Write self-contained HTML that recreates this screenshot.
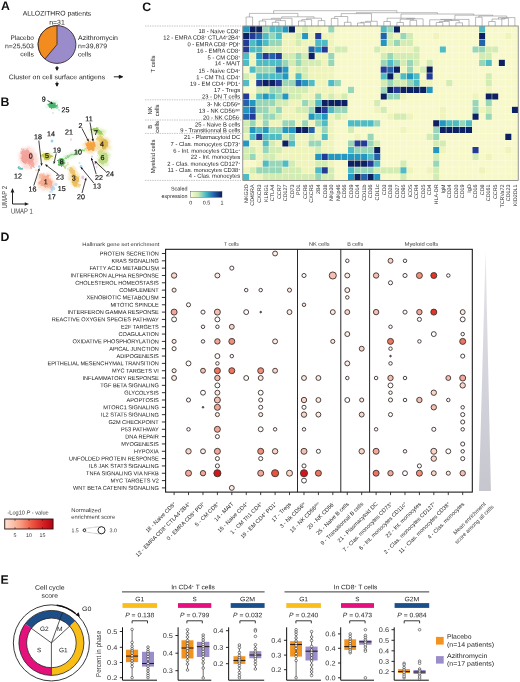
<!DOCTYPE html>
<html><head><meta charset="utf-8"><title>Figure</title>
<style>html,body{margin:0;padding:0;background:#fff}svg{display:block}text{font-family:"Liberation Sans",sans-serif;text-rendering:geometricPrecision}</style>
</head><body>
<svg width="520" height="682" viewBox="0 0 520 682">
<rect width="520" height="682" fill="#fff"/>
<g opacity="0.999">
<text x="0.90" y="10.10" font-size="12.3" font-weight="bold" transform="rotate(0.1 0.90 10.10)" fill="#111">A</text>
<text x="0.50" y="106.00" font-size="12.3" font-weight="bold" transform="rotate(0.1 0.50 106.00)" fill="#111">B</text>
<text x="142.30" y="11.10" font-size="12.3" font-weight="bold" transform="rotate(0.1 142.30 11.10)" fill="#111">C</text>
<text x="0.50" y="240.90" font-size="12.3" font-weight="bold" transform="rotate(0.1 0.50 240.90)" fill="#111">D</text>
<text x="0.50" y="583.70" font-size="12.3" font-weight="bold" transform="rotate(0.1 0.50 583.70)" fill="#111">E</text>
<text x="57.00" y="15.60" font-size="6.7" text-anchor="middle" transform="rotate(0.1 57.00 15.60)" textLength="68.5" lengthAdjust="spacingAndGlyphs" fill="#222">ALLOZITHRO patients</text>
<text x="57.00" y="24.40" font-size="6.7" text-anchor="middle" transform="rotate(0.1 57.00 24.40)" textLength="15.5" lengthAdjust="spacingAndGlyphs" fill="#222">n=31</text>
<circle cx="57" cy="44.5" r="18.9" fill="#9a8ccb" stroke="#3a2c2c" stroke-width="0.9"/>
<path d="M57,44.5 L57,25.6 A18.9,18.9 0 0 0 44.95,59.06 Z" fill="#f28c1e" stroke="#3a2c2c" stroke-width="0.9" stroke-linejoin="round"/>
<text x="33.80" y="40.00" font-size="6.7" text-anchor="end" transform="rotate(0.1 33.80 40.00)" textLength="23.3" lengthAdjust="spacingAndGlyphs" fill="#222">Placebo</text>
<text x="33.80" y="48.20" font-size="6.7" text-anchor="end" transform="rotate(0.1 33.80 48.20)" textLength="28.8" lengthAdjust="spacingAndGlyphs" fill="#222">n=25,503</text>
<text x="33.80" y="56.40" font-size="6.7" text-anchor="end" transform="rotate(0.1 33.80 56.40)" textLength="13.6" lengthAdjust="spacingAndGlyphs" fill="#222">cells</text>
<text x="78.00" y="40.00" font-size="6.7" transform="rotate(0.1 78.00 40.00)" textLength="40" lengthAdjust="spacingAndGlyphs" fill="#222">Azithromycin</text>
<text x="78.00" y="48.20" font-size="6.7" transform="rotate(0.1 78.00 48.20)" textLength="29" lengthAdjust="spacingAndGlyphs" fill="#222">n=39,879</text>
<text x="78.00" y="56.40" font-size="6.7" transform="rotate(0.1 78.00 56.40)" textLength="13.4" lengthAdjust="spacingAndGlyphs" fill="#222">cells</text>
<text x="8.80" y="79.20" font-size="6.7" transform="rotate(0.1 8.80 79.20)" textLength="96.3" lengthAdjust="spacingAndGlyphs" fill="#222">Cluster on cell surface antigens</text>
<path d="M57,66 V68.2 M55.7,67.7 L57,70.3 L58.3,67.7 Z M57,81.7 V84 M55.7,83.5 L57,86.2 L58.3,83.5 Z" stroke="#111" stroke-width="0.9" fill="#111"/>
<path d="M113.8,76.8 H119.6 M119.2,75.3 L122.7,76.8 L119.2,78.3 Z" stroke="#111" stroke-width="0.9" fill="#111"/>
<defs><filter id="b1" x="-30%" y="-30%" width="160%" height="160%"><feTurbulence type="fractalNoise" baseFrequency="0.22" numOctaves="2" seed="7" result="n"/><feDisplacementMap in="SourceGraphic" in2="n" scale="5" xChannelSelector="R" yChannelSelector="G"/><feGaussianBlur stdDeviation="0.75"/></filter><filter id="b2" x="-50%" y="-50%" width="200%" height="200%"><feGaussianBlur stdDeviation="0.55"/></filter><filter id="b3" x="-30%" y="-30%" width="160%" height="160%"><feTurbulence type="fractalNoise" baseFrequency="0.3" numOctaves="2" seed="3" result="n"/><feDisplacementMap in="SourceGraphic" in2="n" scale="7" xChannelSelector="G" yChannelSelector="R"/><feGaussianBlur stdDeviation="1.3"/></filter></defs>
<g filter="url(#b3)">
<ellipse cx="28.5" cy="158" rx="9.5" ry="11" fill="#f9cfc8" opacity="0.7" transform="rotate(-25 28.5 158)"/>
<ellipse cx="45.5" cy="182" rx="9" ry="9" fill="#fbd2bf" opacity="0.7" transform="rotate(0 45.5 182)"/>
<ellipse cx="47" cy="156.5" rx="6.5" ry="4.5" fill="#e2e49c" opacity="0.6" transform="rotate(0 47 156.5)"/>
<ellipse cx="74" cy="177" rx="5.5" ry="10.5" fill="#f5dc9c" opacity="0.7" transform="rotate(-15 74 177)"/>
<ellipse cx="91" cy="146.5" rx="7.5" ry="7.5" fill="#f9cf90" opacity="0.6" transform="rotate(0 91 146.5)"/>
<ellipse cx="103.5" cy="145.5" rx="7" ry="9" fill="#efd88c" opacity="0.7" transform="rotate(10 103.5 145.5)"/>
<ellipse cx="98" cy="131.5" rx="8" ry="4" fill="#cfe69a" opacity="0.6" transform="rotate(15 98 131.5)"/>
<ellipse cx="103.5" cy="159" rx="6" ry="8.5" fill="#d6e8a8" opacity="0.7" transform="rotate(12 103.5 159)"/>
<ellipse cx="74" cy="154" rx="13" ry="2.2" fill="#cdeec4" opacity="0.7" transform="rotate(-24 74 154)"/>
<ellipse cx="52.5" cy="105.5" rx="5.5" ry="4" fill="#a6e0b8" opacity="0.5" transform="rotate(0 52.5 105.5)"/>
</g><g filter="url(#b1)">
<ellipse cx="27" cy="156.5" rx="6.2" ry="7.6" fill="#f0938c" opacity="0.8" transform="rotate(-30 27 156.5)"/>
<ellipse cx="31.5" cy="163.5" rx="3.6" ry="4.6" fill="#f2a098" opacity="0.8" transform="rotate(-30 31.5 163.5)"/>
<ellipse cx="24" cy="152" rx="3.6" ry="3.4" fill="#f3a8a0" opacity="0.7" transform="rotate(0 24 152)"/>
<ellipse cx="45.5" cy="181.8" rx="6.2" ry="6.4" fill="#f7a283" opacity="0.85" transform="rotate(0 45.5 181.8)"/>
<ellipse cx="42" cy="176.5" rx="3" ry="3" fill="#f8b094" opacity="0.7" transform="rotate(0 42 176.5)"/>
<ellipse cx="49.5" cy="187" rx="3" ry="2.6" fill="#f8b094" opacity="0.7" transform="rotate(0 49.5 187)"/>
<ellipse cx="47" cy="156.3" rx="5" ry="3.2" fill="#bcc03c" opacity="0.9" transform="rotate(0 47 156.3)"/>
<ellipse cx="61.3" cy="161.6" rx="3.3" ry="3.5" fill="#4cae50" opacity="0.9" transform="rotate(0 61.3 161.6)"/>
<ellipse cx="75" cy="179.5" rx="3.8" ry="6.6" fill="#e8b548" opacity="0.85" transform="rotate(-12 75 179.5)"/>
<ellipse cx="71.5" cy="170.5" rx="2.2" ry="3.6" fill="#e6bc58" opacity="0.75" transform="rotate(-25 71.5 170.5)"/>
<ellipse cx="77" cy="185" rx="3" ry="2.6" fill="#ecc468" opacity="0.7" transform="rotate(0 77 185)"/>
<ellipse cx="90.6" cy="146.3" rx="5.2" ry="5" fill="#f4a03a" opacity="0.95" transform="rotate(0 90.6 146.3)"/>
<ellipse cx="103.8" cy="144.3" rx="4.2" ry="5.4" fill="#dcae3c" opacity="0.85" transform="rotate(10 103.8 144.3)"/>
<ellipse cx="100" cy="139" rx="3" ry="3" fill="#e6c250" opacity="0.7" transform="rotate(0 100 139)"/>
<ellipse cx="97.5" cy="131" rx="6.2" ry="2.4" fill="#86c440" opacity="0.85" transform="rotate(18 97.5 131)"/>
<ellipse cx="101.5" cy="134" rx="2.8" ry="2" fill="#a6d058" opacity="0.7" transform="rotate(0 101.5 134)"/>
<ellipse cx="103.6" cy="158.5" rx="4.2" ry="6" fill="#b6d474" opacity="0.8" transform="rotate(12 103.6 158.5)"/>
<ellipse cx="100" cy="152.5" rx="2.6" ry="2.6" fill="#c6dc84" opacity="0.7" transform="rotate(0 100 152.5)"/>
<ellipse cx="75" cy="153.6" rx="12" ry="1.3" fill="#8ad480" opacity="0.9" transform="rotate(-24 75 153.6)"/>
<ellipse cx="64.5" cy="166" rx="5" ry="0.9" fill="#7cc87c" opacity="0.6" transform="rotate(55 64.5 166)"/>
<ellipse cx="66.5" cy="166.5" rx="4.5" ry="0.9" fill="#c8c860" opacity="0.6" transform="rotate(-60 66.5 166.5)"/>
<ellipse cx="52.5" cy="105.3" rx="4.2" ry="2.8" fill="#38ae60" opacity="0.9" transform="rotate(5 52.5 105.3)"/>
<ellipse cx="20" cy="168" rx="2.6" ry="1.5" fill="#4cb0ae" opacity="0.85" transform="rotate(15 20 168)"/>
<ellipse cx="52.8" cy="188" rx="2.6" ry="2.4" fill="#a6d0f2" opacity="0.75" transform="rotate(0 52.8 188)"/>
</g><g filter="url(#b2)">
<ellipse cx="56.8" cy="107.6" rx="1.8" ry="1.3" fill="#7cd098" opacity="0.7" transform="rotate(0 56.8 107.6)"/>
<ellipse cx="52" cy="141" rx="1.4" ry="1.6" fill="#7cc4e6" opacity="0.8" transform="rotate(0 52 141)"/>
<ellipse cx="71" cy="139.5" rx="0.8" ry="1.6" fill="#eeb4d2" opacity="0.7" transform="rotate(0 71 139.5)"/>
<ellipse cx="55.8" cy="184.5" rx="1.8" ry="1.8" fill="#a6d0f2" opacity="0.6" transform="rotate(0 55.8 184.5)"/>
<ellipse cx="50.5" cy="191.8" rx="1.4" ry="1.4" fill="#b6d8f4" opacity="0.6" transform="rotate(0 50.5 191.8)"/>
<ellipse cx="81" cy="166.5" rx="1.4" ry="1.4" fill="#86cae8" opacity="0.7" transform="rotate(0 81 166.5)"/>
<ellipse cx="82.8" cy="177.5" rx="1.5" ry="2" fill="#e6a6da" opacity="0.7" transform="rotate(0 82.8 177.5)"/>
<ellipse cx="79.5" cy="163" rx="1" ry="1" fill="#a0dcc0" opacity="0.6" transform="rotate(0 79.5 163)"/>
<ellipse cx="95" cy="163" rx="1.4" ry="1.8" fill="#dca6e2" opacity="0.6" transform="rotate(0 95 163)"/>
<ellipse cx="92" cy="156.5" rx="1.1" ry="1.1" fill="#a0c0f0" opacity="0.6" transform="rotate(0 92 156.5)"/>
<ellipse cx="96.5" cy="167" rx="1" ry="1.4" fill="#e6b6e6" opacity="0.5" transform="rotate(0 96.5 167)"/>
<ellipse cx="39.2" cy="166.5" rx="1.3" ry="1.3" fill="#86bcea" opacity="0.7" transform="rotate(0 39.2 166.5)"/>
<ellipse cx="59" cy="110" rx="0.9" ry="0.9" fill="#90d8a0" opacity="0.6" transform="rotate(0 59 110)"/>
<ellipse cx="53" cy="113" rx="0.7" ry="1.1" fill="#90d8a0" opacity="0.6" transform="rotate(0 53 113)"/>
<ellipse cx="36" cy="170" rx="1" ry="1" fill="#f8b0a8" opacity="0.5" transform="rotate(0 36 170)"/>
</g>
<text x="43.75" y="101.60" font-size="7.1" text-anchor="middle" transform="rotate(0.1 43.75 101.60)" fill="#111" stroke="#111" stroke-width="0.18">9</text>
<text x="65.50" y="112.20" font-size="7.1" text-anchor="middle" transform="rotate(0.1 65.50 112.20)" fill="#111" stroke="#111" stroke-width="0.18">25</text>
<text x="89.00" y="121.20" font-size="7.1" text-anchor="middle" transform="rotate(0.1 89.00 121.20)" fill="#111" stroke="#111" stroke-width="0.18">11</text>
<text x="80.50" y="128.00" font-size="7.1" text-anchor="middle" transform="rotate(0.1 80.50 128.00)" fill="#111" stroke="#111" stroke-width="0.18">2</text>
<text x="96.00" y="135.00" font-size="7.1" text-anchor="middle" transform="rotate(0.1 96.00 135.00)" fill="#111" stroke="#111" stroke-width="0.18">7</text>
<text x="38.00" y="139.20" font-size="7.1" text-anchor="middle" transform="rotate(0.1 38.00 139.20)" fill="#111" stroke="#111" stroke-width="0.18">18</text>
<text x="51.00" y="136.20" font-size="7.1" text-anchor="middle" transform="rotate(0.1 51.00 136.20)" fill="#111" stroke="#111" stroke-width="0.18">14</text>
<text x="69.00" y="134.50" font-size="7.1" text-anchor="middle" transform="rotate(0.1 69.00 134.50)" fill="#111" stroke="#111" stroke-width="0.18">21</text>
<text x="102.00" y="146.60" font-size="7.1" text-anchor="middle" transform="rotate(0.1 102.00 146.60)" fill="#111" stroke="#111" stroke-width="0.18">4</text>
<text x="57.00" y="152.50" font-size="7.1" text-anchor="middle" transform="rotate(0.1 57.00 152.50)" fill="#111" stroke="#111" stroke-width="0.18">19</text>
<text x="78.00" y="154.50" font-size="7.1" text-anchor="middle" transform="rotate(0.1 78.00 154.50)" fill="#111" stroke="#111" stroke-width="0.18">10</text>
<text x="30.75" y="158.60" font-size="7.1" text-anchor="middle" transform="rotate(0.1 30.75 158.60)" fill="#111" stroke="#111" stroke-width="0.18">0</text>
<text x="47.00" y="158.00" font-size="7.1" text-anchor="middle" transform="rotate(0.1 47.00 158.00)" fill="#111" stroke="#111" stroke-width="0.18">5</text>
<text x="102.50" y="160.00" font-size="7.1" text-anchor="middle" transform="rotate(0.1 102.50 160.00)" fill="#111" stroke="#111" stroke-width="0.18">6</text>
<text x="61.75" y="164.20" font-size="7.1" text-anchor="middle" transform="rotate(0.1 61.75 164.20)" fill="#111" stroke="#111" stroke-width="0.18">8</text>
<text x="18.00" y="178.50" font-size="7.1" text-anchor="middle" transform="rotate(0.1 18.00 178.50)" fill="#111" stroke="#111" stroke-width="0.18">12</text>
<text x="110.00" y="176.20" font-size="7.1" text-anchor="middle" transform="rotate(0.1 110.00 176.20)" fill="#111" stroke="#111" stroke-width="0.18">24</text>
<text x="99.00" y="180.00" font-size="7.1" text-anchor="middle" transform="rotate(0.1 99.00 180.00)" fill="#111" stroke="#111" stroke-width="0.18">22</text>
<text x="60.00" y="179.50" font-size="7.1" text-anchor="middle" transform="rotate(0.1 60.00 179.50)" fill="#111" stroke="#111" stroke-width="0.18">23</text>
<text x="73.75" y="180.50" font-size="7.1" text-anchor="middle" transform="rotate(0.1 73.75 180.50)" fill="#111" stroke="#111" stroke-width="0.18">3</text>
<text x="45.75" y="184.20" font-size="7.1" text-anchor="middle" transform="rotate(0.1 45.75 184.20)" fill="#111" stroke="#111" stroke-width="0.18">1</text>
<text x="97.00" y="188.50" font-size="7.1" text-anchor="middle" transform="rotate(0.1 97.00 188.50)" fill="#111" stroke="#111" stroke-width="0.18">13</text>
<text x="32.50" y="191.50" font-size="7.1" text-anchor="middle" transform="rotate(0.1 32.50 191.50)" fill="#111" stroke="#111" stroke-width="0.18">16</text>
<text x="61.75" y="191.00" font-size="7.1" text-anchor="middle" transform="rotate(0.1 61.75 191.00)" fill="#111" stroke="#111" stroke-width="0.18">15</text>
<text x="51.75" y="199.20" font-size="7.1" text-anchor="middle" transform="rotate(0.1 51.75 199.20)" fill="#111" stroke="#111" stroke-width="0.18">17</text>
<text x="81.00" y="199.20" font-size="7.1" text-anchor="middle" transform="rotate(0.1 81.00 199.20)" fill="#111" stroke="#111" stroke-width="0.18">20</text>
<g stroke="#111" stroke-width="0.8" fill="#111">
<path d="M47.5,100.5 L50.9,102.5"/><path d="M53.2,104.0 L50.3,103.5 L51.5,101.6 Z" stroke="none"/>
<path d="M38.8,140.5 L41.4,163.2"/><path d="M41.8,166.0 L40.3,163.4 L42.6,163.1 Z" stroke="none"/>
<path d="M56.2,153.5 L54.4,161.5"/><path d="M53.8,164.2 L53.3,161.3 L55.5,161.8 Z" stroke="none"/>
<path d="M90.0,122.5 L92.8,139.0"/><path d="M93.2,141.8 L91.6,139.2 L93.9,138.8 Z" stroke="none"/>
<path d="M82.0,128.5 L87.5,139.3"/><path d="M88.8,141.8 L86.5,139.8 L88.5,138.7 Z" stroke="none"/>
<path d="M33.8,185.5 L38.6,170.7"/><path d="M39.5,168.0 L39.7,171.0 L37.5,170.3 Z" stroke="none"/>
<path d="M58.0,174.2 L47.2,166.0"/><path d="M45.0,164.2 L47.9,165.0 L46.5,166.9 Z" stroke="none"/>
<path d="M93.8,183.0 L82.3,168.9"/><path d="M80.5,166.8 L83.2,168.2 L81.4,169.6 Z" stroke="none"/>
<path d="M82.0,193.0 L85.5,180.2"/><path d="M86.2,177.5 L86.6,180.5 L84.4,179.9 Z" stroke="none"/>
<path d="M96.2,174.2 L92.1,160.2"/><path d="M91.2,157.5 L93.2,159.9 L90.9,160.5 Z" stroke="none"/>
<path d="M106.2,171.8 L96.6,162.9"/><path d="M94.5,161.0 L97.3,162.0 L95.8,163.7 Z" stroke="none"/>
</g>
<path d="M12.5,191.5 V204 H25.5" stroke="#222" stroke-width="1" fill="none"/><path d="M12.5,188 L10.6,192.4 L14.4,192.4 Z M29,204 L24.8,202.2 L24.8,205.8 Z" fill="#222"/>
<text x="7.10" y="197.10" font-size="7.3" text-anchor="middle" transform="rotate(-90 7.10 197.10)" textLength="22.6" lengthAdjust="spacingAndGlyphs" fill="#444">UMAP 2</text>
<text x="11.00" y="213.60" font-size="7.3" transform="rotate(0.1 11.00 213.60)" textLength="21.7" lengthAdjust="spacingAndGlyphs" fill="#444">UMAP 1</text>
<rect x="242.8" y="26.0" width="275.39" height="154.40" fill="#fcfde0"/>
<path fill="#2396c1" d="M243.1,26.2h6.06v6.21h-6.06zM282.4,26.2h6.06v6.21h-6.06zM302.1,33.0h6.06v6.21h-6.06zM256.2,39.7h6.06v6.21h-6.06zM380.7,39.7h6.06v6.21h-6.06zM315.2,46.4h6.06v6.21h-6.06zM256.2,53.1h6.06v6.21h-6.06zM282.4,66.5h6.06v6.21h-6.06zM282.4,73.2h6.06v6.21h-6.06zM407.0,73.2h6.06v6.21h-6.06zM302.1,80.0h6.06v6.21h-6.06zM426.6,86.7h6.06v6.21h-6.06zM262.7,93.4h6.06v6.21h-6.06zM282.4,93.4h6.06v6.21h-6.06zM249.6,100.1h6.06v6.21h-6.06zM243.1,106.8h6.06v6.21h-6.06zM308.6,113.5h6.06v6.21h-6.06zM321.7,113.5h6.06v6.21h-6.06zM439.8,120.2h6.06v6.21h-6.06zM249.6,126.9h6.06v6.21h-6.06zM262.7,126.9h6.06v6.21h-6.06zM282.4,126.9h6.06v6.21h-6.06zM288.9,126.9h6.06v6.21h-6.06zM243.1,140.4h6.06v6.21h-6.06zM433.2,147.1h6.06v6.21h-6.06zM315.2,153.8h6.06v6.21h-6.06zM328.3,153.8h6.06v6.21h-6.06zM334.8,153.8h6.06v6.21h-6.06zM341.4,153.8h6.06v6.21h-6.06zM348.0,153.8h6.06v6.21h-6.06zM354.5,153.8h6.06v6.21h-6.06zM361.1,153.8h6.06v6.21h-6.06zM348.0,173.9h6.06v6.21h-6.06zM374.2,173.9h6.06v6.21h-6.06z"/>
<path fill="#0b2163" d="M249.6,26.2h6.06v6.21h-6.06zM256.2,26.2h6.06v6.21h-6.06zM288.9,26.2h6.06v6.21h-6.06zM393.9,26.2h6.06v6.21h-6.06zM243.1,33.0h6.06v6.21h-6.06zM479.1,33.0h6.06v6.21h-6.06zM308.6,53.1h6.06v6.21h-6.06zM498.8,59.8h6.06v6.21h-6.06zM393.9,66.5h6.06v6.21h-6.06zM426.6,66.5h6.06v6.21h-6.06zM387.3,73.2h6.06v6.21h-6.06zM262.7,80.0h6.06v6.21h-6.06zM269.3,80.0h6.06v6.21h-6.06zM387.3,86.7h6.06v6.21h-6.06zM400.4,86.7h6.06v6.21h-6.06zM407.0,86.7h6.06v6.21h-6.06zM413.5,86.7h6.06v6.21h-6.06zM420.1,86.7h6.06v6.21h-6.06zM380.7,93.4h6.06v6.21h-6.06zM485.7,93.4h6.06v6.21h-6.06zM492.2,93.4h6.06v6.21h-6.06zM321.7,100.1h6.06v6.21h-6.06zM328.3,100.1h6.06v6.21h-6.06zM334.8,100.1h6.06v6.21h-6.06zM341.4,100.1h6.06v6.21h-6.06zM315.2,106.8h6.06v6.21h-6.06zM511.9,106.8h6.06v6.21h-6.06zM472.5,113.5h6.06v6.21h-6.06zM433.2,120.2h6.06v6.21h-6.06zM295.5,126.9h6.06v6.21h-6.06zM302.1,126.9h6.06v6.21h-6.06zM439.8,126.9h6.06v6.21h-6.06zM446.3,126.9h6.06v6.21h-6.06zM452.9,126.9h6.06v6.21h-6.06zM459.4,126.9h6.06v6.21h-6.06zM466.0,126.9h6.06v6.21h-6.06zM505.3,133.7h6.06v6.21h-6.06zM282.4,140.4h6.06v6.21h-6.06zM374.2,147.1h6.06v6.21h-6.06zM348.0,160.5h6.06v6.21h-6.06zM354.5,160.5h6.06v6.21h-6.06zM361.1,160.5h6.06v6.21h-6.06zM354.5,173.9h6.06v6.21h-6.06zM367.6,173.9h6.06v6.21h-6.06z"/>
<path fill="#98d6ba" d="M262.7,26.2h6.06v6.21h-6.06zM328.3,26.2h6.06v6.21h-6.06zM387.3,26.2h6.06v6.21h-6.06zM269.3,33.0h6.06v6.21h-6.06zM400.4,33.0h6.06v6.21h-6.06zM269.3,39.7h6.06v6.21h-6.06zM275.8,39.7h6.06v6.21h-6.06zM393.9,39.7h6.06v6.21h-6.06zM472.5,46.4h6.06v6.21h-6.06zM479.1,46.4h6.06v6.21h-6.06zM295.5,53.1h6.06v6.21h-6.06zM328.3,53.1h6.06v6.21h-6.06zM387.3,53.1h6.06v6.21h-6.06zM282.4,59.8h6.06v6.21h-6.06zM295.5,59.8h6.06v6.21h-6.06zM328.3,59.8h6.06v6.21h-6.06zM380.7,59.8h6.06v6.21h-6.06zM393.9,59.8h6.06v6.21h-6.06zM407.0,59.8h6.06v6.21h-6.06zM479.1,59.8h6.06v6.21h-6.06zM256.2,66.5h6.06v6.21h-6.06zM262.7,66.5h6.06v6.21h-6.06zM269.3,66.5h6.06v6.21h-6.06zM407.0,66.5h6.06v6.21h-6.06zM282.4,80.0h6.06v6.21h-6.06zM288.9,80.0h6.06v6.21h-6.06zM334.8,80.0h6.06v6.21h-6.06zM387.3,80.0h6.06v6.21h-6.06zM407.0,80.0h6.06v6.21h-6.06zM269.3,86.7h6.06v6.21h-6.06zM275.8,86.7h6.06v6.21h-6.06zM348.0,86.7h6.06v6.21h-6.06zM380.7,86.7h6.06v6.21h-6.06zM275.8,93.4h6.06v6.21h-6.06zM315.2,93.4h6.06v6.21h-6.06zM387.3,93.4h6.06v6.21h-6.06zM393.9,93.4h6.06v6.21h-6.06zM256.2,100.1h6.06v6.21h-6.06zM262.7,100.1h6.06v6.21h-6.06zM269.3,100.1h6.06v6.21h-6.06zM302.1,100.1h6.06v6.21h-6.06zM472.5,100.1h6.06v6.21h-6.06zM485.7,100.1h6.06v6.21h-6.06zM256.2,106.8h6.06v6.21h-6.06zM262.7,106.8h6.06v6.21h-6.06zM275.8,106.8h6.06v6.21h-6.06zM308.6,106.8h6.06v6.21h-6.06zM334.8,106.8h6.06v6.21h-6.06zM341.4,106.8h6.06v6.21h-6.06zM472.5,106.8h6.06v6.21h-6.06zM262.7,113.5h6.06v6.21h-6.06zM269.3,113.5h6.06v6.21h-6.06zM485.7,113.5h6.06v6.21h-6.06zM249.6,120.2h6.06v6.21h-6.06zM262.7,120.2h6.06v6.21h-6.06zM282.4,120.2h6.06v6.21h-6.06zM288.9,120.2h6.06v6.21h-6.06zM302.1,120.2h6.06v6.21h-6.06zM315.2,120.2h6.06v6.21h-6.06zM374.2,120.2h6.06v6.21h-6.06zM459.4,120.2h6.06v6.21h-6.06zM269.3,126.9h6.06v6.21h-6.06zM275.8,126.9h6.06v6.21h-6.06zM321.7,126.9h6.06v6.21h-6.06zM433.2,126.9h6.06v6.21h-6.06zM288.9,133.7h6.06v6.21h-6.06zM367.6,133.7h6.06v6.21h-6.06zM433.2,133.7h6.06v6.21h-6.06zM308.6,140.4h6.06v6.21h-6.06zM315.2,140.4h6.06v6.21h-6.06zM348.0,140.4h6.06v6.21h-6.06zM367.6,140.4h6.06v6.21h-6.06zM262.7,147.1h6.06v6.21h-6.06zM354.5,147.1h6.06v6.21h-6.06zM361.1,147.1h6.06v6.21h-6.06zM367.6,147.1h6.06v6.21h-6.06zM249.6,153.8h6.06v6.21h-6.06zM269.3,160.5h6.06v6.21h-6.06zM275.8,160.5h6.06v6.21h-6.06zM433.2,160.5h6.06v6.21h-6.06zM256.2,167.2h6.06v6.21h-6.06zM262.7,167.2h6.06v6.21h-6.06zM269.3,167.2h6.06v6.21h-6.06zM275.8,167.2h6.06v6.21h-6.06zM354.5,167.2h6.06v6.21h-6.06zM361.1,167.2h6.06v6.21h-6.06zM367.6,167.2h6.06v6.21h-6.06zM315.2,173.9h6.06v6.21h-6.06z"/>
<path fill="#4fbbc4" d="M269.3,26.2h6.06v6.21h-6.06zM275.8,26.2h6.06v6.21h-6.06zM380.7,26.2h6.06v6.21h-6.06zM479.1,26.2h6.06v6.21h-6.06zM262.7,33.0h6.06v6.21h-6.06zM275.8,33.0h6.06v6.21h-6.06zM249.6,39.7h6.06v6.21h-6.06zM262.7,39.7h6.06v6.21h-6.06zM315.2,39.7h6.06v6.21h-6.06zM321.7,39.7h6.06v6.21h-6.06zM249.6,46.4h6.06v6.21h-6.06zM256.2,46.4h6.06v6.21h-6.06zM439.8,46.4h6.06v6.21h-6.06zM243.1,53.1h6.06v6.21h-6.06zM243.1,59.8h6.06v6.21h-6.06zM256.2,59.8h6.06v6.21h-6.06zM262.7,59.8h6.06v6.21h-6.06zM269.3,59.8h6.06v6.21h-6.06zM275.8,59.8h6.06v6.21h-6.06zM387.3,59.8h6.06v6.21h-6.06zM485.7,59.8h6.06v6.21h-6.06zM249.6,66.5h6.06v6.21h-6.06zM256.2,73.2h6.06v6.21h-6.06zM262.7,73.2h6.06v6.21h-6.06zM269.3,73.2h6.06v6.21h-6.06zM275.8,73.2h6.06v6.21h-6.06zM295.5,73.2h6.06v6.21h-6.06zM380.7,73.2h6.06v6.21h-6.06zM400.4,73.2h6.06v6.21h-6.06zM413.5,73.2h6.06v6.21h-6.06zM243.1,80.0h6.06v6.21h-6.06zM308.6,80.0h6.06v6.21h-6.06zM328.3,80.0h6.06v6.21h-6.06zM413.5,80.0h6.06v6.21h-6.06zM256.2,93.4h6.06v6.21h-6.06zM269.3,93.4h6.06v6.21h-6.06zM315.2,100.1h6.06v6.21h-6.06zM328.3,106.8h6.06v6.21h-6.06zM315.2,113.5h6.06v6.21h-6.06zM321.7,120.2h6.06v6.21h-6.06zM348.0,120.2h6.06v6.21h-6.06zM354.5,120.2h6.06v6.21h-6.06zM361.1,120.2h6.06v6.21h-6.06zM367.6,120.2h6.06v6.21h-6.06zM446.3,120.2h6.06v6.21h-6.06zM452.9,120.2h6.06v6.21h-6.06zM466.0,120.2h6.06v6.21h-6.06zM256.2,126.9h6.06v6.21h-6.06zM249.6,133.7h6.06v6.21h-6.06zM262.7,133.7h6.06v6.21h-6.06zM269.3,133.7h6.06v6.21h-6.06zM275.8,133.7h6.06v6.21h-6.06zM321.7,133.7h6.06v6.21h-6.06zM262.7,140.4h6.06v6.21h-6.06zM288.9,140.4h6.06v6.21h-6.06zM348.0,147.1h6.06v6.21h-6.06zM367.6,153.8h6.06v6.21h-6.06zM262.7,160.5h6.06v6.21h-6.06zM282.4,160.5h6.06v6.21h-6.06zM374.2,160.5h6.06v6.21h-6.06zM315.2,167.2h6.06v6.21h-6.06zM348.0,167.2h6.06v6.21h-6.06zM400.4,167.2h6.06v6.21h-6.06zM243.1,173.9h6.06v6.21h-6.06z"/>
<path fill="#eef4bb" d="M295.5,26.2h6.06v6.21h-6.06zM308.6,26.2h6.06v6.21h-6.06zM315.2,26.2h6.06v6.21h-6.06zM282.4,33.0h6.06v6.21h-6.06zM288.9,33.0h6.06v6.21h-6.06zM308.6,33.0h6.06v6.21h-6.06zM321.7,33.0h6.06v6.21h-6.06zM328.3,33.0h6.06v6.21h-6.06zM393.9,33.0h6.06v6.21h-6.06zM433.2,33.0h6.06v6.21h-6.06zM505.3,33.0h6.06v6.21h-6.06zM282.4,39.7h6.06v6.21h-6.06zM288.9,39.7h6.06v6.21h-6.06zM302.1,39.7h6.06v6.21h-6.06zM308.6,39.7h6.06v6.21h-6.06zM328.3,39.7h6.06v6.21h-6.06zM282.4,46.4h6.06v6.21h-6.06zM288.9,46.4h6.06v6.21h-6.06zM295.5,46.4h6.06v6.21h-6.06zM302.1,46.4h6.06v6.21h-6.06zM328.3,46.4h6.06v6.21h-6.06zM380.7,46.4h6.06v6.21h-6.06zM387.3,46.4h6.06v6.21h-6.06zM393.9,46.4h6.06v6.21h-6.06zM400.4,46.4h6.06v6.21h-6.06zM407.0,46.4h6.06v6.21h-6.06zM249.6,53.1h6.06v6.21h-6.06zM315.2,53.1h6.06v6.21h-6.06zM321.7,53.1h6.06v6.21h-6.06zM249.6,59.8h6.06v6.21h-6.06zM321.7,59.8h6.06v6.21h-6.06zM288.9,66.5h6.06v6.21h-6.06zM308.6,66.5h6.06v6.21h-6.06zM315.2,66.5h6.06v6.21h-6.06zM321.7,66.5h6.06v6.21h-6.06zM328.3,66.5h6.06v6.21h-6.06zM400.4,66.5h6.06v6.21h-6.06zM413.5,66.5h6.06v6.21h-6.06zM249.6,73.2h6.06v6.21h-6.06zM288.9,73.2h6.06v6.21h-6.06zM308.6,73.2h6.06v6.21h-6.06zM315.2,73.2h6.06v6.21h-6.06zM321.7,73.2h6.06v6.21h-6.06zM328.3,73.2h6.06v6.21h-6.06zM315.2,80.0h6.06v6.21h-6.06zM321.7,80.0h6.06v6.21h-6.06zM420.1,80.0h6.06v6.21h-6.06zM426.6,80.0h6.06v6.21h-6.06zM308.6,86.7h6.06v6.21h-6.06zM315.2,86.7h6.06v6.21h-6.06zM321.7,86.7h6.06v6.21h-6.06zM328.3,86.7h6.06v6.21h-6.06zM485.7,86.7h6.06v6.21h-6.06zM249.6,93.4h6.06v6.21h-6.06zM302.1,93.4h6.06v6.21h-6.06zM308.6,93.4h6.06v6.21h-6.06zM321.7,93.4h6.06v6.21h-6.06zM334.8,93.4h6.06v6.21h-6.06zM400.4,93.4h6.06v6.21h-6.06zM472.5,93.4h6.06v6.21h-6.06zM288.9,100.1h6.06v6.21h-6.06zM295.5,100.1h6.06v6.21h-6.06zM282.4,106.8h6.06v6.21h-6.06zM288.9,106.8h6.06v6.21h-6.06zM374.2,106.8h6.06v6.21h-6.06zM439.8,106.8h6.06v6.21h-6.06zM479.1,106.8h6.06v6.21h-6.06zM282.4,113.5h6.06v6.21h-6.06zM288.9,113.5h6.06v6.21h-6.06zM295.5,113.5h6.06v6.21h-6.06zM302.1,113.5h6.06v6.21h-6.06zM328.3,113.5h6.06v6.21h-6.06zM341.4,113.5h6.06v6.21h-6.06zM387.3,113.5h6.06v6.21h-6.06zM407.0,113.5h6.06v6.21h-6.06zM439.8,113.5h6.06v6.21h-6.06zM256.2,120.2h6.06v6.21h-6.06zM269.3,120.2h6.06v6.21h-6.06zM275.8,120.2h6.06v6.21h-6.06zM295.5,120.2h6.06v6.21h-6.06zM308.6,120.2h6.06v6.21h-6.06zM328.3,120.2h6.06v6.21h-6.06zM315.2,126.9h6.06v6.21h-6.06zM328.3,126.9h6.06v6.21h-6.06zM400.4,126.9h6.06v6.21h-6.06zM243.1,133.7h6.06v6.21h-6.06zM295.5,133.7h6.06v6.21h-6.06zM302.1,133.7h6.06v6.21h-6.06zM315.2,133.7h6.06v6.21h-6.06zM328.3,133.7h6.06v6.21h-6.06zM354.5,133.7h6.06v6.21h-6.06zM249.6,140.4h6.06v6.21h-6.06zM256.2,140.4h6.06v6.21h-6.06zM275.8,140.4h6.06v6.21h-6.06zM295.5,140.4h6.06v6.21h-6.06zM302.1,140.4h6.06v6.21h-6.06zM321.7,140.4h6.06v6.21h-6.06zM328.3,140.4h6.06v6.21h-6.06zM256.2,147.1h6.06v6.21h-6.06zM282.4,147.1h6.06v6.21h-6.06zM288.9,147.1h6.06v6.21h-6.06zM295.5,147.1h6.06v6.21h-6.06zM302.1,147.1h6.06v6.21h-6.06zM308.6,147.1h6.06v6.21h-6.06zM321.7,147.1h6.06v6.21h-6.06zM328.3,147.1h6.06v6.21h-6.06zM439.8,147.1h6.06v6.21h-6.06zM505.3,147.1h6.06v6.21h-6.06zM256.2,153.8h6.06v6.21h-6.06zM275.8,153.8h6.06v6.21h-6.06zM282.4,153.8h6.06v6.21h-6.06zM288.9,153.8h6.06v6.21h-6.06zM295.5,153.8h6.06v6.21h-6.06zM302.1,153.8h6.06v6.21h-6.06zM308.6,153.8h6.06v6.21h-6.06zM485.7,153.8h6.06v6.21h-6.06zM256.2,160.5h6.06v6.21h-6.06zM295.5,160.5h6.06v6.21h-6.06zM302.1,160.5h6.06v6.21h-6.06zM308.6,160.5h6.06v6.21h-6.06zM328.3,160.5h6.06v6.21h-6.06zM243.1,167.2h6.06v6.21h-6.06zM302.1,167.2h6.06v6.21h-6.06zM308.6,167.2h6.06v6.21h-6.06zM407.0,167.2h6.06v6.21h-6.06zM426.6,167.2h6.06v6.21h-6.06zM479.1,167.2h6.06v6.21h-6.06zM249.6,173.9h6.06v6.21h-6.06zM256.2,173.9h6.06v6.21h-6.06z"/>
<path fill="#d2ecb3" d="M302.1,26.2h6.06v6.21h-6.06zM295.5,33.0h6.06v6.21h-6.06zM387.3,33.0h6.06v6.21h-6.06zM407.0,33.0h6.06v6.21h-6.06zM295.5,39.7h6.06v6.21h-6.06zM387.3,39.7h6.06v6.21h-6.06zM400.4,39.7h6.06v6.21h-6.06zM407.0,39.7h6.06v6.21h-6.06zM262.7,46.4h6.06v6.21h-6.06zM269.3,46.4h6.06v6.21h-6.06zM275.8,46.4h6.06v6.21h-6.06zM334.8,46.4h6.06v6.21h-6.06zM341.4,46.4h6.06v6.21h-6.06zM374.2,46.4h6.06v6.21h-6.06zM413.5,46.4h6.06v6.21h-6.06zM485.7,46.4h6.06v6.21h-6.06zM492.2,46.4h6.06v6.21h-6.06zM282.4,53.1h6.06v6.21h-6.06zM288.9,53.1h6.06v6.21h-6.06zM302.1,53.1h6.06v6.21h-6.06zM380.7,53.1h6.06v6.21h-6.06zM393.9,53.1h6.06v6.21h-6.06zM400.4,53.1h6.06v6.21h-6.06zM407.0,53.1h6.06v6.21h-6.06zM413.5,53.1h6.06v6.21h-6.06zM479.1,53.1h6.06v6.21h-6.06zM485.7,53.1h6.06v6.21h-6.06zM288.9,59.8h6.06v6.21h-6.06zM302.1,59.8h6.06v6.21h-6.06zM308.6,59.8h6.06v6.21h-6.06zM315.2,59.8h6.06v6.21h-6.06zM400.4,59.8h6.06v6.21h-6.06zM413.5,59.8h6.06v6.21h-6.06zM426.6,59.8h6.06v6.21h-6.06zM295.5,66.5h6.06v6.21h-6.06zM302.1,66.5h6.06v6.21h-6.06zM420.1,66.5h6.06v6.21h-6.06zM243.1,73.2h6.06v6.21h-6.06zM302.1,73.2h6.06v6.21h-6.06zM393.9,73.2h6.06v6.21h-6.06zM485.7,73.2h6.06v6.21h-6.06zM380.7,80.0h6.06v6.21h-6.06zM393.9,80.0h6.06v6.21h-6.06zM400.4,80.0h6.06v6.21h-6.06zM446.3,80.0h6.06v6.21h-6.06zM485.7,80.0h6.06v6.21h-6.06zM256.2,86.7h6.06v6.21h-6.06zM262.7,86.7h6.06v6.21h-6.06zM282.4,86.7h6.06v6.21h-6.06zM288.9,86.7h6.06v6.21h-6.06zM295.5,86.7h6.06v6.21h-6.06zM302.1,86.7h6.06v6.21h-6.06zM288.9,93.4h6.06v6.21h-6.06zM295.5,93.4h6.06v6.21h-6.06zM328.3,93.4h6.06v6.21h-6.06zM341.4,93.4h6.06v6.21h-6.06zM275.8,100.1h6.06v6.21h-6.06zM282.4,100.1h6.06v6.21h-6.06zM308.6,100.1h6.06v6.21h-6.06zM374.2,100.1h6.06v6.21h-6.06zM269.3,106.8h6.06v6.21h-6.06zM295.5,106.8h6.06v6.21h-6.06zM302.1,106.8h6.06v6.21h-6.06zM380.7,106.8h6.06v6.21h-6.06zM485.7,106.8h6.06v6.21h-6.06zM256.2,113.5h6.06v6.21h-6.06zM275.8,113.5h6.06v6.21h-6.06zM334.8,113.5h6.06v6.21h-6.06zM393.9,113.5h6.06v6.21h-6.06zM400.4,113.5h6.06v6.21h-6.06zM243.1,120.2h6.06v6.21h-6.06zM243.1,126.9h6.06v6.21h-6.06zM348.0,126.9h6.06v6.21h-6.06zM282.4,133.7h6.06v6.21h-6.06zM308.6,133.7h6.06v6.21h-6.06zM426.6,133.7h6.06v6.21h-6.06zM269.3,140.4h6.06v6.21h-6.06zM374.2,140.4h6.06v6.21h-6.06zM433.2,140.4h6.06v6.21h-6.06zM439.8,140.4h6.06v6.21h-6.06zM243.1,147.1h6.06v6.21h-6.06zM249.6,147.1h6.06v6.21h-6.06zM269.3,147.1h6.06v6.21h-6.06zM275.8,147.1h6.06v6.21h-6.06zM315.2,147.1h6.06v6.21h-6.06zM243.1,153.8h6.06v6.21h-6.06zM262.7,153.8h6.06v6.21h-6.06zM269.3,153.8h6.06v6.21h-6.06zM433.2,153.8h6.06v6.21h-6.06zM472.5,153.8h6.06v6.21h-6.06zM288.9,160.5h6.06v6.21h-6.06zM315.2,160.5h6.06v6.21h-6.06zM321.7,160.5h6.06v6.21h-6.06zM400.4,160.5h6.06v6.21h-6.06zM249.6,167.2h6.06v6.21h-6.06zM282.4,167.2h6.06v6.21h-6.06zM288.9,167.2h6.06v6.21h-6.06zM295.5,167.2h6.06v6.21h-6.06zM328.3,167.2h6.06v6.21h-6.06zM374.2,167.2h6.06v6.21h-6.06zM380.7,167.2h6.06v6.21h-6.06zM387.3,167.2h6.06v6.21h-6.06zM393.9,167.2h6.06v6.21h-6.06zM433.2,167.2h6.06v6.21h-6.06zM262.7,173.9h6.06v6.21h-6.06zM269.3,173.9h6.06v6.21h-6.06zM275.8,173.9h6.06v6.21h-6.06zM282.4,173.9h6.06v6.21h-6.06zM288.9,173.9h6.06v6.21h-6.06zM295.5,173.9h6.06v6.21h-6.06zM302.1,173.9h6.06v6.21h-6.06zM308.6,173.9h6.06v6.21h-6.06zM321.7,173.9h6.06v6.21h-6.06zM328.3,173.9h6.06v6.21h-6.06zM400.4,173.9h6.06v6.21h-6.06zM433.2,173.9h6.06v6.21h-6.06z"/>
<path fill="#f8f9cb" d="M321.7,26.2h6.06v6.21h-6.06zM334.8,26.2h6.06v6.21h-6.06zM341.4,26.2h6.06v6.21h-6.06zM348.0,26.2h6.06v6.21h-6.06zM354.5,26.2h6.06v6.21h-6.06zM361.1,26.2h6.06v6.21h-6.06zM367.6,26.2h6.06v6.21h-6.06zM374.2,26.2h6.06v6.21h-6.06zM400.4,26.2h6.06v6.21h-6.06zM407.0,26.2h6.06v6.21h-6.06zM413.5,26.2h6.06v6.21h-6.06zM420.1,26.2h6.06v6.21h-6.06zM426.6,26.2h6.06v6.21h-6.06zM433.2,26.2h6.06v6.21h-6.06zM439.8,26.2h6.06v6.21h-6.06zM446.3,26.2h6.06v6.21h-6.06zM452.9,26.2h6.06v6.21h-6.06zM459.4,26.2h6.06v6.21h-6.06zM466.0,26.2h6.06v6.21h-6.06zM472.5,26.2h6.06v6.21h-6.06zM485.7,26.2h6.06v6.21h-6.06zM492.2,26.2h6.06v6.21h-6.06zM498.8,26.2h6.06v6.21h-6.06zM505.3,26.2h6.06v6.21h-6.06zM511.9,26.2h6.06v6.21h-6.06zM334.8,33.0h6.06v6.21h-6.06zM341.4,33.0h6.06v6.21h-6.06zM348.0,33.0h6.06v6.21h-6.06zM354.5,33.0h6.06v6.21h-6.06zM361.1,33.0h6.06v6.21h-6.06zM367.6,33.0h6.06v6.21h-6.06zM374.2,33.0h6.06v6.21h-6.06zM413.5,33.0h6.06v6.21h-6.06zM420.1,33.0h6.06v6.21h-6.06zM426.6,33.0h6.06v6.21h-6.06zM439.8,33.0h6.06v6.21h-6.06zM446.3,33.0h6.06v6.21h-6.06zM452.9,33.0h6.06v6.21h-6.06zM459.4,33.0h6.06v6.21h-6.06zM466.0,33.0h6.06v6.21h-6.06zM472.5,33.0h6.06v6.21h-6.06zM485.7,33.0h6.06v6.21h-6.06zM492.2,33.0h6.06v6.21h-6.06zM498.8,33.0h6.06v6.21h-6.06zM511.9,33.0h6.06v6.21h-6.06zM334.8,39.7h6.06v6.21h-6.06zM341.4,39.7h6.06v6.21h-6.06zM348.0,39.7h6.06v6.21h-6.06zM354.5,39.7h6.06v6.21h-6.06zM361.1,39.7h6.06v6.21h-6.06zM367.6,39.7h6.06v6.21h-6.06zM374.2,39.7h6.06v6.21h-6.06zM413.5,39.7h6.06v6.21h-6.06zM420.1,39.7h6.06v6.21h-6.06zM426.6,39.7h6.06v6.21h-6.06zM433.2,39.7h6.06v6.21h-6.06zM439.8,39.7h6.06v6.21h-6.06zM446.3,39.7h6.06v6.21h-6.06zM452.9,39.7h6.06v6.21h-6.06zM459.4,39.7h6.06v6.21h-6.06zM466.0,39.7h6.06v6.21h-6.06zM472.5,39.7h6.06v6.21h-6.06zM485.7,39.7h6.06v6.21h-6.06zM492.2,39.7h6.06v6.21h-6.06zM498.8,39.7h6.06v6.21h-6.06zM505.3,39.7h6.06v6.21h-6.06zM511.9,39.7h6.06v6.21h-6.06zM348.0,46.4h6.06v6.21h-6.06zM354.5,46.4h6.06v6.21h-6.06zM361.1,46.4h6.06v6.21h-6.06zM367.6,46.4h6.06v6.21h-6.06zM420.1,46.4h6.06v6.21h-6.06zM426.6,46.4h6.06v6.21h-6.06zM433.2,46.4h6.06v6.21h-6.06zM446.3,46.4h6.06v6.21h-6.06zM452.9,46.4h6.06v6.21h-6.06zM459.4,46.4h6.06v6.21h-6.06zM466.0,46.4h6.06v6.21h-6.06zM498.8,46.4h6.06v6.21h-6.06zM505.3,46.4h6.06v6.21h-6.06zM511.9,46.4h6.06v6.21h-6.06zM334.8,53.1h6.06v6.21h-6.06zM341.4,53.1h6.06v6.21h-6.06zM348.0,53.1h6.06v6.21h-6.06zM354.5,53.1h6.06v6.21h-6.06zM361.1,53.1h6.06v6.21h-6.06zM367.6,53.1h6.06v6.21h-6.06zM374.2,53.1h6.06v6.21h-6.06zM420.1,53.1h6.06v6.21h-6.06zM426.6,53.1h6.06v6.21h-6.06zM433.2,53.1h6.06v6.21h-6.06zM439.8,53.1h6.06v6.21h-6.06zM446.3,53.1h6.06v6.21h-6.06zM452.9,53.1h6.06v6.21h-6.06zM459.4,53.1h6.06v6.21h-6.06zM466.0,53.1h6.06v6.21h-6.06zM472.5,53.1h6.06v6.21h-6.06zM492.2,53.1h6.06v6.21h-6.06zM498.8,53.1h6.06v6.21h-6.06zM505.3,53.1h6.06v6.21h-6.06zM511.9,53.1h6.06v6.21h-6.06zM334.8,59.8h6.06v6.21h-6.06zM341.4,59.8h6.06v6.21h-6.06zM348.0,59.8h6.06v6.21h-6.06zM354.5,59.8h6.06v6.21h-6.06zM361.1,59.8h6.06v6.21h-6.06zM367.6,59.8h6.06v6.21h-6.06zM374.2,59.8h6.06v6.21h-6.06zM420.1,59.8h6.06v6.21h-6.06zM433.2,59.8h6.06v6.21h-6.06zM439.8,59.8h6.06v6.21h-6.06zM446.3,59.8h6.06v6.21h-6.06zM452.9,59.8h6.06v6.21h-6.06zM459.4,59.8h6.06v6.21h-6.06zM466.0,59.8h6.06v6.21h-6.06zM472.5,59.8h6.06v6.21h-6.06zM492.2,59.8h6.06v6.21h-6.06zM505.3,59.8h6.06v6.21h-6.06zM511.9,59.8h6.06v6.21h-6.06zM243.1,66.5h6.06v6.21h-6.06zM334.8,66.5h6.06v6.21h-6.06zM341.4,66.5h6.06v6.21h-6.06zM348.0,66.5h6.06v6.21h-6.06zM354.5,66.5h6.06v6.21h-6.06zM361.1,66.5h6.06v6.21h-6.06zM367.6,66.5h6.06v6.21h-6.06zM374.2,66.5h6.06v6.21h-6.06zM433.2,66.5h6.06v6.21h-6.06zM439.8,66.5h6.06v6.21h-6.06zM446.3,66.5h6.06v6.21h-6.06zM452.9,66.5h6.06v6.21h-6.06zM459.4,66.5h6.06v6.21h-6.06zM466.0,66.5h6.06v6.21h-6.06zM472.5,66.5h6.06v6.21h-6.06zM479.1,66.5h6.06v6.21h-6.06zM485.7,66.5h6.06v6.21h-6.06zM492.2,66.5h6.06v6.21h-6.06zM498.8,66.5h6.06v6.21h-6.06zM505.3,66.5h6.06v6.21h-6.06zM511.9,66.5h6.06v6.21h-6.06zM334.8,73.2h6.06v6.21h-6.06zM341.4,73.2h6.06v6.21h-6.06zM348.0,73.2h6.06v6.21h-6.06zM354.5,73.2h6.06v6.21h-6.06zM361.1,73.2h6.06v6.21h-6.06zM367.6,73.2h6.06v6.21h-6.06zM374.2,73.2h6.06v6.21h-6.06zM420.1,73.2h6.06v6.21h-6.06zM433.2,73.2h6.06v6.21h-6.06zM439.8,73.2h6.06v6.21h-6.06zM446.3,73.2h6.06v6.21h-6.06zM452.9,73.2h6.06v6.21h-6.06zM459.4,73.2h6.06v6.21h-6.06zM466.0,73.2h6.06v6.21h-6.06zM472.5,73.2h6.06v6.21h-6.06zM479.1,73.2h6.06v6.21h-6.06zM492.2,73.2h6.06v6.21h-6.06zM498.8,73.2h6.06v6.21h-6.06zM505.3,73.2h6.06v6.21h-6.06zM511.9,73.2h6.06v6.21h-6.06zM249.6,80.0h6.06v6.21h-6.06zM341.4,80.0h6.06v6.21h-6.06zM348.0,80.0h6.06v6.21h-6.06zM354.5,80.0h6.06v6.21h-6.06zM361.1,80.0h6.06v6.21h-6.06zM367.6,80.0h6.06v6.21h-6.06zM374.2,80.0h6.06v6.21h-6.06zM433.2,80.0h6.06v6.21h-6.06zM439.8,80.0h6.06v6.21h-6.06zM452.9,80.0h6.06v6.21h-6.06zM459.4,80.0h6.06v6.21h-6.06zM466.0,80.0h6.06v6.21h-6.06zM472.5,80.0h6.06v6.21h-6.06zM479.1,80.0h6.06v6.21h-6.06zM492.2,80.0h6.06v6.21h-6.06zM498.8,80.0h6.06v6.21h-6.06zM505.3,80.0h6.06v6.21h-6.06zM511.9,80.0h6.06v6.21h-6.06zM243.1,86.7h6.06v6.21h-6.06zM249.6,86.7h6.06v6.21h-6.06zM334.8,86.7h6.06v6.21h-6.06zM341.4,86.7h6.06v6.21h-6.06zM354.5,86.7h6.06v6.21h-6.06zM361.1,86.7h6.06v6.21h-6.06zM367.6,86.7h6.06v6.21h-6.06zM374.2,86.7h6.06v6.21h-6.06zM433.2,86.7h6.06v6.21h-6.06zM439.8,86.7h6.06v6.21h-6.06zM446.3,86.7h6.06v6.21h-6.06zM452.9,86.7h6.06v6.21h-6.06zM459.4,86.7h6.06v6.21h-6.06zM466.0,86.7h6.06v6.21h-6.06zM472.5,86.7h6.06v6.21h-6.06zM479.1,86.7h6.06v6.21h-6.06zM492.2,86.7h6.06v6.21h-6.06zM498.8,86.7h6.06v6.21h-6.06zM505.3,86.7h6.06v6.21h-6.06zM511.9,86.7h6.06v6.21h-6.06zM348.0,93.4h6.06v6.21h-6.06zM354.5,93.4h6.06v6.21h-6.06zM361.1,93.4h6.06v6.21h-6.06zM367.6,93.4h6.06v6.21h-6.06zM374.2,93.4h6.06v6.21h-6.06zM407.0,93.4h6.06v6.21h-6.06zM413.5,93.4h6.06v6.21h-6.06zM420.1,93.4h6.06v6.21h-6.06zM426.6,93.4h6.06v6.21h-6.06zM433.2,93.4h6.06v6.21h-6.06zM439.8,93.4h6.06v6.21h-6.06zM446.3,93.4h6.06v6.21h-6.06zM452.9,93.4h6.06v6.21h-6.06zM459.4,93.4h6.06v6.21h-6.06zM466.0,93.4h6.06v6.21h-6.06zM479.1,93.4h6.06v6.21h-6.06zM498.8,93.4h6.06v6.21h-6.06zM505.3,93.4h6.06v6.21h-6.06zM511.9,93.4h6.06v6.21h-6.06zM348.0,100.1h6.06v6.21h-6.06zM354.5,100.1h6.06v6.21h-6.06zM361.1,100.1h6.06v6.21h-6.06zM367.6,100.1h6.06v6.21h-6.06zM380.7,100.1h6.06v6.21h-6.06zM387.3,100.1h6.06v6.21h-6.06zM393.9,100.1h6.06v6.21h-6.06zM400.4,100.1h6.06v6.21h-6.06zM407.0,100.1h6.06v6.21h-6.06zM413.5,100.1h6.06v6.21h-6.06zM420.1,100.1h6.06v6.21h-6.06zM426.6,100.1h6.06v6.21h-6.06zM433.2,100.1h6.06v6.21h-6.06zM439.8,100.1h6.06v6.21h-6.06zM446.3,100.1h6.06v6.21h-6.06zM452.9,100.1h6.06v6.21h-6.06zM459.4,100.1h6.06v6.21h-6.06zM466.0,100.1h6.06v6.21h-6.06zM479.1,100.1h6.06v6.21h-6.06zM492.2,100.1h6.06v6.21h-6.06zM498.8,100.1h6.06v6.21h-6.06zM505.3,100.1h6.06v6.21h-6.06zM511.9,100.1h6.06v6.21h-6.06zM348.0,106.8h6.06v6.21h-6.06zM354.5,106.8h6.06v6.21h-6.06zM361.1,106.8h6.06v6.21h-6.06zM367.6,106.8h6.06v6.21h-6.06zM387.3,106.8h6.06v6.21h-6.06zM393.9,106.8h6.06v6.21h-6.06zM400.4,106.8h6.06v6.21h-6.06zM407.0,106.8h6.06v6.21h-6.06zM413.5,106.8h6.06v6.21h-6.06zM420.1,106.8h6.06v6.21h-6.06zM426.6,106.8h6.06v6.21h-6.06zM433.2,106.8h6.06v6.21h-6.06zM446.3,106.8h6.06v6.21h-6.06zM452.9,106.8h6.06v6.21h-6.06zM459.4,106.8h6.06v6.21h-6.06zM466.0,106.8h6.06v6.21h-6.06zM492.2,106.8h6.06v6.21h-6.06zM498.8,106.8h6.06v6.21h-6.06zM505.3,106.8h6.06v6.21h-6.06zM348.0,113.5h6.06v6.21h-6.06zM354.5,113.5h6.06v6.21h-6.06zM361.1,113.5h6.06v6.21h-6.06zM367.6,113.5h6.06v6.21h-6.06zM374.2,113.5h6.06v6.21h-6.06zM380.7,113.5h6.06v6.21h-6.06zM413.5,113.5h6.06v6.21h-6.06zM420.1,113.5h6.06v6.21h-6.06zM426.6,113.5h6.06v6.21h-6.06zM433.2,113.5h6.06v6.21h-6.06zM446.3,113.5h6.06v6.21h-6.06zM452.9,113.5h6.06v6.21h-6.06zM459.4,113.5h6.06v6.21h-6.06zM466.0,113.5h6.06v6.21h-6.06zM479.1,113.5h6.06v6.21h-6.06zM492.2,113.5h6.06v6.21h-6.06zM498.8,113.5h6.06v6.21h-6.06zM505.3,113.5h6.06v6.21h-6.06zM511.9,113.5h6.06v6.21h-6.06zM334.8,120.2h6.06v6.21h-6.06zM341.4,120.2h6.06v6.21h-6.06zM380.7,120.2h6.06v6.21h-6.06zM387.3,120.2h6.06v6.21h-6.06zM393.9,120.2h6.06v6.21h-6.06zM400.4,120.2h6.06v6.21h-6.06zM407.0,120.2h6.06v6.21h-6.06zM413.5,120.2h6.06v6.21h-6.06zM420.1,120.2h6.06v6.21h-6.06zM426.6,120.2h6.06v6.21h-6.06zM472.5,120.2h6.06v6.21h-6.06zM479.1,120.2h6.06v6.21h-6.06zM485.7,120.2h6.06v6.21h-6.06zM492.2,120.2h6.06v6.21h-6.06zM498.8,120.2h6.06v6.21h-6.06zM505.3,120.2h6.06v6.21h-6.06zM511.9,120.2h6.06v6.21h-6.06zM334.8,126.9h6.06v6.21h-6.06zM341.4,126.9h6.06v6.21h-6.06zM354.5,126.9h6.06v6.21h-6.06zM361.1,126.9h6.06v6.21h-6.06zM367.6,126.9h6.06v6.21h-6.06zM374.2,126.9h6.06v6.21h-6.06zM380.7,126.9h6.06v6.21h-6.06zM387.3,126.9h6.06v6.21h-6.06zM393.9,126.9h6.06v6.21h-6.06zM407.0,126.9h6.06v6.21h-6.06zM413.5,126.9h6.06v6.21h-6.06zM420.1,126.9h6.06v6.21h-6.06zM426.6,126.9h6.06v6.21h-6.06zM472.5,126.9h6.06v6.21h-6.06zM479.1,126.9h6.06v6.21h-6.06zM485.7,126.9h6.06v6.21h-6.06zM492.2,126.9h6.06v6.21h-6.06zM498.8,126.9h6.06v6.21h-6.06zM505.3,126.9h6.06v6.21h-6.06zM511.9,126.9h6.06v6.21h-6.06zM334.8,133.7h6.06v6.21h-6.06zM341.4,133.7h6.06v6.21h-6.06zM348.0,133.7h6.06v6.21h-6.06zM361.1,133.7h6.06v6.21h-6.06zM374.2,133.7h6.06v6.21h-6.06zM380.7,133.7h6.06v6.21h-6.06zM387.3,133.7h6.06v6.21h-6.06zM393.9,133.7h6.06v6.21h-6.06zM400.4,133.7h6.06v6.21h-6.06zM407.0,133.7h6.06v6.21h-6.06zM413.5,133.7h6.06v6.21h-6.06zM420.1,133.7h6.06v6.21h-6.06zM439.8,133.7h6.06v6.21h-6.06zM446.3,133.7h6.06v6.21h-6.06zM452.9,133.7h6.06v6.21h-6.06zM459.4,133.7h6.06v6.21h-6.06zM466.0,133.7h6.06v6.21h-6.06zM472.5,133.7h6.06v6.21h-6.06zM479.1,133.7h6.06v6.21h-6.06zM485.7,133.7h6.06v6.21h-6.06zM492.2,133.7h6.06v6.21h-6.06zM498.8,133.7h6.06v6.21h-6.06zM511.9,133.7h6.06v6.21h-6.06zM334.8,140.4h6.06v6.21h-6.06zM341.4,140.4h6.06v6.21h-6.06zM380.7,140.4h6.06v6.21h-6.06zM387.3,140.4h6.06v6.21h-6.06zM393.9,140.4h6.06v6.21h-6.06zM400.4,140.4h6.06v6.21h-6.06zM407.0,140.4h6.06v6.21h-6.06zM413.5,140.4h6.06v6.21h-6.06zM420.1,140.4h6.06v6.21h-6.06zM426.6,140.4h6.06v6.21h-6.06zM446.3,140.4h6.06v6.21h-6.06zM452.9,140.4h6.06v6.21h-6.06zM459.4,140.4h6.06v6.21h-6.06zM466.0,140.4h6.06v6.21h-6.06zM472.5,140.4h6.06v6.21h-6.06zM479.1,140.4h6.06v6.21h-6.06zM485.7,140.4h6.06v6.21h-6.06zM492.2,140.4h6.06v6.21h-6.06zM498.8,140.4h6.06v6.21h-6.06zM505.3,140.4h6.06v6.21h-6.06zM511.9,140.4h6.06v6.21h-6.06zM334.8,147.1h6.06v6.21h-6.06zM341.4,147.1h6.06v6.21h-6.06zM380.7,147.1h6.06v6.21h-6.06zM387.3,147.1h6.06v6.21h-6.06zM393.9,147.1h6.06v6.21h-6.06zM400.4,147.1h6.06v6.21h-6.06zM407.0,147.1h6.06v6.21h-6.06zM413.5,147.1h6.06v6.21h-6.06zM420.1,147.1h6.06v6.21h-6.06zM426.6,147.1h6.06v6.21h-6.06zM446.3,147.1h6.06v6.21h-6.06zM452.9,147.1h6.06v6.21h-6.06zM459.4,147.1h6.06v6.21h-6.06zM466.0,147.1h6.06v6.21h-6.06zM479.1,147.1h6.06v6.21h-6.06zM485.7,147.1h6.06v6.21h-6.06zM492.2,147.1h6.06v6.21h-6.06zM498.8,147.1h6.06v6.21h-6.06zM511.9,147.1h6.06v6.21h-6.06zM380.7,153.8h6.06v6.21h-6.06zM387.3,153.8h6.06v6.21h-6.06zM393.9,153.8h6.06v6.21h-6.06zM400.4,153.8h6.06v6.21h-6.06zM407.0,153.8h6.06v6.21h-6.06zM413.5,153.8h6.06v6.21h-6.06zM420.1,153.8h6.06v6.21h-6.06zM426.6,153.8h6.06v6.21h-6.06zM439.8,153.8h6.06v6.21h-6.06zM446.3,153.8h6.06v6.21h-6.06zM452.9,153.8h6.06v6.21h-6.06zM459.4,153.8h6.06v6.21h-6.06zM466.0,153.8h6.06v6.21h-6.06zM479.1,153.8h6.06v6.21h-6.06zM492.2,153.8h6.06v6.21h-6.06zM498.8,153.8h6.06v6.21h-6.06zM505.3,153.8h6.06v6.21h-6.06zM511.9,153.8h6.06v6.21h-6.06zM243.1,160.5h6.06v6.21h-6.06zM249.6,160.5h6.06v6.21h-6.06zM334.8,160.5h6.06v6.21h-6.06zM341.4,160.5h6.06v6.21h-6.06zM380.7,160.5h6.06v6.21h-6.06zM387.3,160.5h6.06v6.21h-6.06zM393.9,160.5h6.06v6.21h-6.06zM407.0,160.5h6.06v6.21h-6.06zM413.5,160.5h6.06v6.21h-6.06zM420.1,160.5h6.06v6.21h-6.06zM426.6,160.5h6.06v6.21h-6.06zM439.8,160.5h6.06v6.21h-6.06zM446.3,160.5h6.06v6.21h-6.06zM452.9,160.5h6.06v6.21h-6.06zM459.4,160.5h6.06v6.21h-6.06zM466.0,160.5h6.06v6.21h-6.06zM472.5,160.5h6.06v6.21h-6.06zM479.1,160.5h6.06v6.21h-6.06zM485.7,160.5h6.06v6.21h-6.06zM492.2,160.5h6.06v6.21h-6.06zM498.8,160.5h6.06v6.21h-6.06zM505.3,160.5h6.06v6.21h-6.06zM511.9,160.5h6.06v6.21h-6.06zM334.8,167.2h6.06v6.21h-6.06zM341.4,167.2h6.06v6.21h-6.06zM413.5,167.2h6.06v6.21h-6.06zM420.1,167.2h6.06v6.21h-6.06zM439.8,167.2h6.06v6.21h-6.06zM446.3,167.2h6.06v6.21h-6.06zM452.9,167.2h6.06v6.21h-6.06zM459.4,167.2h6.06v6.21h-6.06zM466.0,167.2h6.06v6.21h-6.06zM472.5,167.2h6.06v6.21h-6.06zM485.7,167.2h6.06v6.21h-6.06zM492.2,167.2h6.06v6.21h-6.06zM498.8,167.2h6.06v6.21h-6.06zM505.3,167.2h6.06v6.21h-6.06zM511.9,167.2h6.06v6.21h-6.06zM334.8,173.9h6.06v6.21h-6.06zM341.4,173.9h6.06v6.21h-6.06zM380.7,173.9h6.06v6.21h-6.06zM387.3,173.9h6.06v6.21h-6.06zM393.9,173.9h6.06v6.21h-6.06zM407.0,173.9h6.06v6.21h-6.06zM413.5,173.9h6.06v6.21h-6.06zM420.1,173.9h6.06v6.21h-6.06zM426.6,173.9h6.06v6.21h-6.06zM439.8,173.9h6.06v6.21h-6.06zM446.3,173.9h6.06v6.21h-6.06zM452.9,173.9h6.06v6.21h-6.06zM459.4,173.9h6.06v6.21h-6.06zM466.0,173.9h6.06v6.21h-6.06zM472.5,173.9h6.06v6.21h-6.06zM479.1,173.9h6.06v6.21h-6.06zM485.7,173.9h6.06v6.21h-6.06zM492.2,173.9h6.06v6.21h-6.06zM498.8,173.9h6.06v6.21h-6.06zM505.3,173.9h6.06v6.21h-6.06zM511.9,173.9h6.06v6.21h-6.06z"/>
<path fill="#233b97" d="M249.6,33.0h6.06v6.21h-6.06zM315.2,33.0h6.06v6.21h-6.06zM243.1,39.7h6.06v6.21h-6.06zM243.1,46.4h6.06v6.21h-6.06zM321.7,46.4h6.06v6.21h-6.06zM262.7,53.1h6.06v6.21h-6.06zM275.8,53.1h6.06v6.21h-6.06zM380.7,66.5h6.06v6.21h-6.06zM426.6,73.2h6.06v6.21h-6.06zM256.2,80.0h6.06v6.21h-6.06zM275.8,80.0h6.06v6.21h-6.06zM393.9,86.7h6.06v6.21h-6.06zM243.1,93.4h6.06v6.21h-6.06zM321.7,106.8h6.06v6.21h-6.06zM249.6,113.5h6.06v6.21h-6.06zM256.2,133.7h6.06v6.21h-6.06zM354.5,140.4h6.06v6.21h-6.06zM361.1,140.4h6.06v6.21h-6.06zM472.5,147.1h6.06v6.21h-6.06zM321.7,153.8h6.06v6.21h-6.06zM367.6,160.5h6.06v6.21h-6.06zM321.7,167.2h6.06v6.21h-6.06z"/>
<path fill="#2263ab" d="M256.2,33.0h6.06v6.21h-6.06zM380.7,33.0h6.06v6.21h-6.06zM479.1,39.7h6.06v6.21h-6.06zM308.6,46.4h6.06v6.21h-6.06zM269.3,53.1h6.06v6.21h-6.06zM275.8,66.5h6.06v6.21h-6.06zM387.3,66.5h6.06v6.21h-6.06zM295.5,80.0h6.06v6.21h-6.06zM243.1,100.1h6.06v6.21h-6.06zM249.6,106.8h6.06v6.21h-6.06zM243.1,113.5h6.06v6.21h-6.06zM308.6,126.9h6.06v6.21h-6.06zM374.2,153.8h6.06v6.21h-6.06zM361.1,173.9h6.06v6.21h-6.06z"/>
<rect x="242.8" y="26.0" width="275.39" height="154.40" fill="none" stroke="#666" stroke-width="0.7"/>
<text x="240.10" y="33.20" font-size="5.8" text-anchor="end" transform="rotate(0.1 240.10 33.20)" fill="#222">18 - Naive CD8<tspan dy="-1.6" font-size="3.2">+</tspan></text>
<text x="240.10" y="39.60" font-size="5.8" text-anchor="end" transform="rotate(0.1 240.10 39.60)" fill="#222">12 - EMRA CD8<tspan dy="-1.6" font-size="3.2">+</tspan><tspan dy="1.6"> CTLA4</tspan><tspan dy="-1.6" font-size="3.2">+</tspan><tspan dy="1.6">2B4</tspan><tspan dy="-1.6" font-size="3.2">+</tspan></text>
<text x="240.10" y="46.40" font-size="5.8" text-anchor="end" transform="rotate(0.1 240.10 46.40)" fill="#222">0 - EMRA CD8<tspan dy="-1.6" font-size="3.2">+</tspan><tspan dy="1.6"> PDl</tspan><tspan dy="-1.6" font-size="3.2">+</tspan></text>
<text x="240.10" y="52.80" font-size="5.8" text-anchor="end" transform="rotate(0.1 240.10 52.80)" fill="#222">16 - EMRA CD8<tspan dy="-1.6" font-size="3.2">+</tspan></text>
<text x="240.10" y="59.60" font-size="5.8" text-anchor="end" transform="rotate(0.1 240.10 59.60)" fill="#222">5 - CM CD8<tspan dy="-1.6" font-size="3.2">+</tspan></text>
<text x="240.10" y="65.40" font-size="5.8" text-anchor="end" transform="rotate(0.1 240.10 65.40)" fill="#222">14 - MAIT</text>
<text x="240.10" y="72.90" font-size="5.8" text-anchor="end" transform="rotate(0.1 240.10 72.90)" fill="#222">15 - Naive CD4<tspan dy="-1.6" font-size="3.2">+</tspan></text>
<text x="240.10" y="79.40" font-size="5.8" text-anchor="end" transform="rotate(0.1 240.10 79.40)" fill="#222">1 - CM Th1 CD4<tspan dy="-1.6" font-size="3.2">+</tspan></text>
<text x="240.10" y="85.80" font-size="5.8" text-anchor="end" transform="rotate(0.1 240.10 85.80)" fill="#222">19 - EM CD4<tspan dy="-1.6" font-size="3.2">+</tspan><tspan dy="1.6"> PD1</tspan><tspan dy="-1.6" font-size="3.2">+</tspan></text>
<text x="240.10" y="92.10" font-size="5.8" text-anchor="end" transform="rotate(0.1 240.10 92.10)" fill="#222">17 - Tregs</text>
<text x="240.10" y="98.50" font-size="5.8" text-anchor="end" transform="rotate(0.1 240.10 98.50)" fill="#222">23 - DN T cells</text>
<text x="240.10" y="106.30" font-size="5.8" text-anchor="end" transform="rotate(0.1 240.10 106.30)" fill="#222">3- Nk CD56<tspan dy="-1.6" font-size="3.2">br</tspan></text>
<text x="240.10" y="112.80" font-size="5.8" text-anchor="end" transform="rotate(0.1 240.10 112.80)" fill="#222">13 - NK CD56<tspan dy="-1.6" font-size="3.2">dim</tspan></text>
<text x="240.10" y="119.60" font-size="5.8" text-anchor="end" transform="rotate(0.1 240.10 119.60)" fill="#222">20 - NK CD56<tspan dy="-1.6" font-size="3.2">-</tspan></text>
<text x="240.10" y="126.60" font-size="5.8" text-anchor="end" transform="rotate(0.1 240.10 126.60)" fill="#222">25 - Naive B cells</text>
<text x="240.10" y="132.30" font-size="5.8" text-anchor="end" transform="rotate(0.1 240.10 132.30)" fill="#222">9 - Transitionnal B cells</text>
<text x="240.10" y="139.00" font-size="5.8" text-anchor="end" transform="rotate(0.1 240.10 139.00)" fill="#222">21 - Plasmacytoid DC</text>
<text x="240.10" y="146.20" font-size="5.8" text-anchor="end" transform="rotate(0.1 240.10 146.20)" fill="#222">7 - Clas. monocytes CD73<tspan dy="-1.6" font-size="3.2">+</tspan></text>
<text x="240.10" y="152.90" font-size="5.8" text-anchor="end" transform="rotate(0.1 240.10 152.90)" fill="#222">6 - Int. monocytes CD11c<tspan dy="-1.6" font-size="3.2">+</tspan></text>
<text x="240.10" y="158.90" font-size="5.8" text-anchor="end" transform="rotate(0.1 240.10 158.90)" fill="#222">22 - Int. monocytes</text>
<text x="240.10" y="165.80" font-size="5.8" text-anchor="end" transform="rotate(0.1 240.10 165.80)" fill="#222">2 - Clas. monocytes CD127<tspan dy="-1.6" font-size="3.2">+</tspan></text>
<text x="240.10" y="172.00" font-size="5.8" text-anchor="end" transform="rotate(0.1 240.10 172.00)" fill="#222">11 - Clas. monocytes CD38<tspan dy="-1.6" font-size="3.2">+</tspan></text>
<text x="240.10" y="177.80" font-size="5.8" text-anchor="end" transform="rotate(0.1 240.10 177.80)" fill="#222">4 - Clas. monocytes</text>
<text x="247.88" y="184.40" font-size="5.4" text-anchor="end" transform="rotate(-90 247.88 184.40)" fill="#333">NKG2D</text>
<text x="254.44" y="184.40" font-size="5.4" text-anchor="end" transform="rotate(-90 254.44 184.40)" fill="#333">CD45RA</text>
<text x="260.99" y="184.40" font-size="5.4" text-anchor="end" transform="rotate(-90 260.99 184.40)" fill="#333">CXCR3</text>
<text x="267.55" y="184.40" font-size="5.4" text-anchor="end" transform="rotate(-90 267.55 184.40)" fill="#333">KLRG1</text>
<text x="274.11" y="184.40" font-size="5.4" text-anchor="end" transform="rotate(-90 274.11 184.40)" fill="#333">CTLA4</text>
<text x="280.66" y="184.40" font-size="5.4" text-anchor="end" transform="rotate(-90 280.66 184.40)" fill="#333">CCR7</text>
<text x="287.22" y="184.40" font-size="5.4" text-anchor="end" transform="rotate(-90 287.22 184.40)" fill="#333">CD127</text>
<text x="293.78" y="184.40" font-size="5.4" text-anchor="end" transform="rotate(-90 293.78 184.40)" fill="#333">CD73</text>
<text x="300.33" y="184.40" font-size="5.4" text-anchor="end" transform="rotate(-90 300.33 184.40)" fill="#333">PD1</text>
<text x="306.89" y="184.40" font-size="5.4" text-anchor="end" transform="rotate(-90 306.89 184.40)" fill="#333">CCR6</text>
<text x="313.45" y="184.40" font-size="5.4" text-anchor="end" transform="rotate(-90 313.45 184.40)" fill="#333">CXCR5</text>
<text x="320.01" y="184.40" font-size="5.4" text-anchor="end" transform="rotate(-90 320.01 184.40)" fill="#333">2B4</text>
<text x="326.56" y="184.40" font-size="5.4" text-anchor="end" transform="rotate(-90 326.56 184.40)" fill="#333">CD38</text>
<text x="333.12" y="184.40" font-size="5.4" text-anchor="end" transform="rotate(-90 333.12 184.40)" fill="#333">NKp30</text>
<text x="339.68" y="184.40" font-size="5.4" text-anchor="end" transform="rotate(-90 339.68 184.40)" fill="#333">NKp46</text>
<text x="346.23" y="184.40" font-size="5.4" text-anchor="end" transform="rotate(-90 346.23 184.40)" fill="#333">CD56</text>
<text x="352.79" y="184.40" font-size="5.4" text-anchor="end" transform="rotate(-90 352.79 184.40)" fill="#333">CD39</text>
<text x="359.35" y="184.40" font-size="5.4" text-anchor="end" transform="rotate(-90 359.35 184.40)" fill="#333">CD14</text>
<text x="365.90" y="184.40" font-size="5.4" text-anchor="end" transform="rotate(-90 365.90 184.40)" fill="#333">CD11b</text>
<text x="372.46" y="184.40" font-size="5.4" text-anchor="end" transform="rotate(-90 372.46 184.40)" fill="#333">CD36</text>
<text x="379.02" y="184.40" font-size="5.4" text-anchor="end" transform="rotate(-90 379.02 184.40)" fill="#333">CD11c</text>
<text x="385.58" y="184.40" font-size="5.4" text-anchor="end" transform="rotate(-90 385.58 184.40)" fill="#333">CD3</text>
<text x="392.13" y="184.40" font-size="5.4" text-anchor="end" transform="rotate(-90 392.13 184.40)" fill="#333">CD28</text>
<text x="398.69" y="184.40" font-size="5.4" text-anchor="end" transform="rotate(-90 398.69 184.40)" fill="#333">CD27</text>
<text x="405.25" y="184.40" font-size="5.4" text-anchor="end" transform="rotate(-90 405.25 184.40)" fill="#333">CD95</text>
<text x="411.80" y="184.40" font-size="5.4" text-anchor="end" transform="rotate(-90 411.80 184.40)" fill="#333">ICOS</text>
<text x="418.36" y="184.40" font-size="5.4" text-anchor="end" transform="rotate(-90 418.36 184.40)" fill="#333">CCR4</text>
<text x="424.92" y="184.40" font-size="5.4" text-anchor="end" transform="rotate(-90 424.92 184.40)" fill="#333">CD25</text>
<text x="431.47" y="184.40" font-size="5.4" text-anchor="end" transform="rotate(-90 431.47 184.40)" fill="#333">CD4</text>
<text x="438.03" y="184.40" font-size="5.4" text-anchor="end" transform="rotate(-90 438.03 184.40)" fill="#333">HLA-DR</text>
<text x="444.59" y="184.40" font-size="5.4" text-anchor="end" transform="rotate(-90 444.59 184.40)" fill="#333">IgM</text>
<text x="451.15" y="184.40" font-size="5.4" text-anchor="end" transform="rotate(-90 451.15 184.40)" fill="#333">CD24</text>
<text x="457.70" y="184.40" font-size="5.4" text-anchor="end" transform="rotate(-90 457.70 184.40)" fill="#333">CD20</text>
<text x="464.26" y="184.40" font-size="5.4" text-anchor="end" transform="rotate(-90 464.26 184.40)" fill="#333">CD19</text>
<text x="470.82" y="184.40" font-size="5.4" text-anchor="end" transform="rotate(-90 470.82 184.40)" fill="#333">IgD</text>
<text x="477.37" y="184.40" font-size="5.4" text-anchor="end" transform="rotate(-90 477.37 184.40)" fill="#333">CD16</text>
<text x="483.93" y="184.40" font-size="5.4" text-anchor="end" transform="rotate(-90 483.93 184.40)" fill="#333">CD8</text>
<text x="490.49" y="184.40" font-size="5.4" text-anchor="end" transform="rotate(-90 490.49 184.40)" fill="#333">CD161</text>
<text x="497.04" y="184.40" font-size="5.4" text-anchor="end" transform="rotate(-90 497.04 184.40)" fill="#333">CCR5</text>
<text x="503.60" y="184.40" font-size="5.4" text-anchor="end" transform="rotate(-90 503.60 184.40)" fill="#333">TCRVa72</text>
<text x="510.16" y="184.40" font-size="5.4" text-anchor="end" transform="rotate(-90 510.16 184.40)" fill="#333">CD123</text>
<text x="516.72" y="184.40" font-size="5.4" text-anchor="end" transform="rotate(-90 516.72 184.40)" fill="#333">KID2DL1</text>
<path d="M145,26.0 H241.5" stroke="#555" stroke-width="0.5" stroke-dasharray="0.7 1"/>
<path d="M145,99.8 H241.5" stroke="#555" stroke-width="0.5" stroke-dasharray="0.7 1"/>
<path d="M145,120.0 H241.5" stroke="#555" stroke-width="0.5" stroke-dasharray="0.7 1"/>
<path d="M145,133.4 H241.5" stroke="#555" stroke-width="0.5" stroke-dasharray="0.7 1"/>
<path d="M145,180.4 H241.5" stroke="#555" stroke-width="0.5" stroke-dasharray="0.7 1"/>
<text x="155.20" y="64.00" font-size="5.9" text-anchor="middle" transform="rotate(-90 155.20 64.00)" fill="#222">T cells</text>
<text x="151.80" y="110.40" font-size="5.9" text-anchor="middle" transform="rotate(-90 151.80 110.40)" fill="#222">NK</text>
<text x="159.20" y="110.40" font-size="5.9" text-anchor="middle" transform="rotate(-90 159.20 110.40)" fill="#222">cells</text>
<text x="151.80" y="126.90" font-size="5.9" text-anchor="middle" transform="rotate(-90 151.80 126.90)" fill="#222">B</text>
<text x="159.20" y="126.90" font-size="5.9" text-anchor="middle" transform="rotate(-90 159.20 126.90)" fill="#222">cells</text>
<text x="155.20" y="156.50" font-size="5.9" text-anchor="middle" transform="rotate(-90 155.20 156.50)" fill="#222">Myeloid cells</text>
<defs><linearGradient id="yg"><stop offset="0" stop-color="#fcfdd0"/><stop offset=".25" stop-color="#c7e9b4"/><stop offset=".5" stop-color="#41b6c4"/><stop offset=".75" stop-color="#225ea8"/><stop offset="1" stop-color="#081d58"/></linearGradient></defs>
<rect x="190.7" y="191.5" width="31.3" height="5.8" fill="url(#yg)" stroke="#444" stroke-width="0.4"/>
<text x="187.50" y="190.60" font-size="5.4" text-anchor="end" transform="rotate(0.1 187.50 190.60)" fill="#222">Scaled</text>
<text x="187.50" y="198.00" font-size="5.4" text-anchor="end" transform="rotate(0.1 187.50 198.00)" fill="#222">expression</text>
<text x="190.70" y="204.60" font-size="5.4" text-anchor="middle" transform="rotate(0.1 190.70 204.60)" fill="#222">0</text>
<text x="206.40" y="204.60" font-size="5.4" text-anchor="middle" transform="rotate(0.1 206.40 204.60)" fill="#222">0.5</text>
<text x="222.00" y="204.60" font-size="5.4" text-anchor="middle" transform="rotate(0.1 222.00 204.60)" fill="#222">1</text>
<path d="M246.1,26.0V17.0H252.6V26.0M259.2,26.0V21.0H265.7V26.0M272.3,26.0V22.3H278.9V26.0M275.6,22.3V20.6H285.4V26.0M262.5,21.0V19.3H280.5V20.6M271.5,19.3V18.3H292.0V26.0M298.5,26.0V21.0H305.1V26.0M301.8,21.0V19.6H311.6V26.0M318.2,26.0V20.6H324.8V26.0M306.7,19.6V18.2H321.5V20.6M281.7,18.3V16.8H314.1V18.2M249.4,17.0V13.4H297.9V16.8M331.3,26.0V18.4H337.9V26.0M344.4,26.0V22.3H351.0V26.0M334.6,18.4V16.5H347.7V22.3M357.5,26.0V23.0H364.1V26.0M360.8,23.0V22.3H370.7V26.0M365.7,22.3V21.3H377.2V26.0M341.2,16.5V13.6H371.5V21.3M383.8,26.0V21.5H390.3V26.0M396.9,26.0V22.5H403.4V26.0M410.0,26.0V20.3H416.6V26.0M400.2,22.5V19.2H413.3V20.3M406.7,19.2V18.8H423.1V26.0M387.1,21.5V18.2H414.9V18.8M436.2,26.0V22.5H442.8V26.0M439.5,22.5V21.5H449.3V26.0M455.9,26.0V22.8H462.5V26.0M444.4,21.5V20.5H459.2V22.8M429.7,26.0V19.8H451.8V20.5M440.7,19.8V19.4H469.0V26.0M488.7,26.0V21.5H495.2V26.0M501.8,26.0V18.3H508.4V26.0M492.0,21.5V19.0H505.1V18.3M498.5,19.0V17.6H514.9V26.0M475.6,26.0V17.2H482.1V26.0M478.9,17.2V16.0H506.7V17.6M454.9,19.4V15.2H492.8V16.0M401.0,18.2V14.0H473.8V15.2M356.3,13.6V12.7H437.4V14.0M273.6,13.4V10.7H396.9V12.7" fill="none" stroke="#6a6a6a" stroke-width="0.45"/>
<text x="159.30" y="246.10" font-size="5.1" text-anchor="end" transform="rotate(0.1 159.30 246.10)" textLength="77" lengthAdjust="spacingAndGlyphs" fill="#333">Hallmark gene set enrichment</text>
<text x="158.80" y="255.50" font-size="5.6" text-anchor="end" transform="rotate(0.1 158.80 255.50)" fill="#1c1c1c">PROTEIN SECRETION</text>
<text x="158.80" y="262.82" font-size="5.6" text-anchor="end" transform="rotate(0.1 158.80 262.82)" fill="#1c1c1c">KRAS SIGNALING</text>
<text x="158.80" y="270.15" font-size="5.6" text-anchor="end" transform="rotate(0.1 158.80 270.15)" fill="#1c1c1c">FATTY ACID METABOLISM</text>
<text x="158.80" y="277.48" font-size="5.6" text-anchor="end" transform="rotate(0.1 158.80 277.48)" fill="#1c1c1c">INTERFERON ALPHA RESPONSE</text>
<text x="158.80" y="284.80" font-size="5.6" text-anchor="end" transform="rotate(0.1 158.80 284.80)" fill="#1c1c1c">CHOLESTEROL HOMEOSTASIS</text>
<text x="158.80" y="292.12" font-size="5.6" text-anchor="end" transform="rotate(0.1 158.80 292.12)" fill="#1c1c1c">COMPLEMENT</text>
<text x="158.80" y="299.45" font-size="5.6" text-anchor="end" transform="rotate(0.1 158.80 299.45)" fill="#1c1c1c">XENOBIOTIC METABOLISM</text>
<text x="158.80" y="306.77" font-size="5.6" text-anchor="end" transform="rotate(0.1 158.80 306.77)" fill="#1c1c1c">MITOTIC SPINDLE</text>
<text x="158.80" y="314.10" font-size="5.6" text-anchor="end" transform="rotate(0.1 158.80 314.10)" fill="#1c1c1c">INTERFERON GAMMA RESPONSE</text>
<text x="158.80" y="321.43" font-size="5.6" text-anchor="end" transform="rotate(0.1 158.80 321.43)" fill="#1c1c1c">REACTIVE OXYGEN SPECIES PATHWAY</text>
<text x="158.80" y="328.75" font-size="5.6" text-anchor="end" transform="rotate(0.1 158.80 328.75)" fill="#1c1c1c">E2F TARGETS</text>
<text x="158.80" y="336.07" font-size="5.6" text-anchor="end" transform="rotate(0.1 158.80 336.07)" fill="#1c1c1c">COAGULATION</text>
<text x="158.80" y="343.40" font-size="5.6" text-anchor="end" transform="rotate(0.1 158.80 343.40)" fill="#1c1c1c">OXIDATIVE PHOSPHORYLATION</text>
<text x="158.80" y="350.73" font-size="5.6" text-anchor="end" transform="rotate(0.1 158.80 350.73)" fill="#1c1c1c">APICAL JUNCTION</text>
<text x="158.80" y="358.05" font-size="5.6" text-anchor="end" transform="rotate(0.1 158.80 358.05)" fill="#1c1c1c">ADIPOGENESIS</text>
<text x="158.80" y="365.38" font-size="5.6" text-anchor="end" transform="rotate(0.1 158.80 365.38)" fill="#1c1c1c">EPITHELIAL MESENCHYMAL TRANSITION</text>
<text x="158.80" y="372.70" font-size="5.6" text-anchor="end" transform="rotate(0.1 158.80 372.70)" fill="#1c1c1c">MYC TARGETS VI</text>
<text x="158.80" y="380.02" font-size="5.6" text-anchor="end" transform="rotate(0.1 158.80 380.02)" fill="#1c1c1c">INFLAMMATORY RESPONSE</text>
<text x="158.80" y="387.35" font-size="5.6" text-anchor="end" transform="rotate(0.1 158.80 387.35)" fill="#1c1c1c">TGF BETA SIGNALING</text>
<text x="158.80" y="394.68" font-size="5.6" text-anchor="end" transform="rotate(0.1 158.80 394.68)" fill="#1c1c1c">GLYCOLYSIS</text>
<text x="158.80" y="402.00" font-size="5.6" text-anchor="end" transform="rotate(0.1 158.80 402.00)" fill="#1c1c1c">APOPTOSIS</text>
<text x="158.80" y="409.33" font-size="5.6" text-anchor="end" transform="rotate(0.1 158.80 409.33)" fill="#1c1c1c">MTORC1 SIGNALING</text>
<text x="158.80" y="416.65" font-size="5.6" text-anchor="end" transform="rotate(0.1 158.80 416.65)" fill="#1c1c1c">IL2 STAT5 SIGNALING</text>
<text x="158.80" y="423.98" font-size="5.6" text-anchor="end" transform="rotate(0.1 158.80 423.98)" fill="#1c1c1c">G2M CHECKPOINT</text>
<text x="158.80" y="431.30" font-size="5.6" text-anchor="end" transform="rotate(0.1 158.80 431.30)" fill="#1c1c1c">P53 PATHWAY</text>
<text x="158.80" y="438.62" font-size="5.6" text-anchor="end" transform="rotate(0.1 158.80 438.62)" fill="#1c1c1c">DNA REPAIR</text>
<text x="158.80" y="445.95" font-size="5.6" text-anchor="end" transform="rotate(0.1 158.80 445.95)" fill="#1c1c1c">MYOGENESIS</text>
<text x="158.80" y="453.27" font-size="5.6" text-anchor="end" transform="rotate(0.1 158.80 453.27)" fill="#1c1c1c">HYPOXIA</text>
<text x="158.80" y="460.60" font-size="5.6" text-anchor="end" transform="rotate(0.1 158.80 460.60)" fill="#1c1c1c">UNFOLDED PROTEIN RESPONSE</text>
<text x="158.80" y="467.93" font-size="5.6" text-anchor="end" transform="rotate(0.1 158.80 467.93)" fill="#1c1c1c">IL6 JAK STAT3 SIGNALING</text>
<text x="158.80" y="475.25" font-size="5.6" text-anchor="end" transform="rotate(0.1 158.80 475.25)" fill="#1c1c1c">TNFA SIGNALING VIA NFKB</text>
<text x="158.80" y="482.58" font-size="5.6" text-anchor="end" transform="rotate(0.1 158.80 482.58)" fill="#1c1c1c">MYC TARGETS V2</text>
<text x="158.80" y="489.90" font-size="5.6" text-anchor="end" transform="rotate(0.1 158.80 489.90)" fill="#1c1c1c">WNT BETA CATENIN SIGNALING</text>
<path d="M161.9,253.50H165.6M161.9,260.82H165.6M161.9,268.15H165.6M161.9,275.48H165.6M161.9,282.80H165.6M161.9,290.12H165.6M161.9,297.45H165.6M161.9,304.77H165.6M161.9,312.10H165.6M161.9,319.43H165.6M161.9,326.75H165.6M161.9,334.07H165.6M161.9,341.40H165.6M161.9,348.73H165.6M161.9,356.05H165.6M161.9,363.38H165.6M161.9,370.70H165.6M161.9,378.02H165.6M161.9,385.35H165.6M161.9,392.68H165.6M161.9,400.00H165.6M161.9,407.33H165.6M161.9,414.65H165.6M161.9,421.98H165.6M161.9,429.30H165.6M161.9,436.62H165.6M161.9,443.95H165.6M161.9,451.27H165.6M161.9,458.60H165.6M161.9,465.93H165.6M161.9,473.25H165.6M161.9,480.58H165.6M161.9,487.90H165.6" stroke="#111" stroke-width="0.85"/>
<rect x="165.6" y="249.3" width="306.70000000000005" height="242.8" fill="none" stroke="#111" stroke-width="1.05"/>
<path d="M297.5,249.3V492.1" stroke="#111" stroke-width="0.9"/>
<path d="M340.8,249.3V492.1" stroke="#111" stroke-width="0.9"/>
<path d="M369.6,249.3V492.1" stroke="#111" stroke-width="0.9"/>
<path d="M174.10,492.1v3M188.53,492.1v3M202.96,492.1v3M217.39,492.1v3M231.82,492.1v3M246.25,492.1v3M260.68,492.1v3M275.11,492.1v3M289.54,492.1v3M303.97,492.1v3M318.40,492.1v3M332.83,492.1v3M347.26,492.1v3M361.69,492.1v3M376.12,492.1v3M390.55,492.1v3M404.98,492.1v3M419.41,492.1v3M433.84,492.1v3M448.27,492.1v3M462.70,492.1v3" stroke="#111" stroke-width="0.8"/>
<text x="231.40" y="245.70" font-size="5.2" text-anchor="middle" transform="rotate(0.1 231.40 245.70)" textLength="14.6" lengthAdjust="spacingAndGlyphs" fill="#333">T cells</text>
<text x="319.20" y="245.70" font-size="5.2" text-anchor="middle" transform="rotate(0.1 319.20 245.70)" textLength="20.6" lengthAdjust="spacingAndGlyphs" fill="#333">NK cells</text>
<text x="355.20" y="245.70" font-size="5.2" text-anchor="middle" transform="rotate(0.1 355.20 245.70)" textLength="16" lengthAdjust="spacingAndGlyphs" fill="#333">B cells</text>
<text x="421.30" y="245.70" font-size="5.2" text-anchor="middle" transform="rotate(0.1 421.30 245.70)" textLength="33.6" lengthAdjust="spacingAndGlyphs" fill="#333">Myeloid cells</text>
<g stroke="#3c302c" stroke-width="0.9"><circle cx="275.1" cy="253.5" r="2.45" fill="#fdece4"/><circle cx="347.3" cy="260.8" r="1.75" fill="#ffffff"/><circle cx="390.5" cy="260.8" r="2.45" fill="#f9d6c8"/><circle cx="405.0" cy="260.8" r="1.75" fill="#ffffff"/><circle cx="231.8" cy="268.1" r="2.05" fill="#ffffff"/><circle cx="174.1" cy="275.5" r="2.7" fill="#f9d6c8"/><circle cx="217.4" cy="275.5" r="2.45" fill="#fdece4"/><circle cx="304.0" cy="275.5" r="2.05" fill="#ffffff"/><circle cx="332.8" cy="275.5" r="3.55" fill="#f5bfb2"/><circle cx="347.3" cy="275.5" r="2.45" fill="#fdece4"/><circle cx="376.1" cy="275.5" r="2.7" fill="#f5bfb2"/><circle cx="405.0" cy="275.5" r="2.05" fill="#ffffff"/><circle cx="419.4" cy="275.5" r="3.0" fill="#ef8f7c"/><circle cx="433.8" cy="275.5" r="3.0" fill="#e43425"/><circle cx="448.3" cy="275.5" r="1.75" fill="#ffffff"/><circle cx="390.5" cy="282.8" r="2.05" fill="#ffffff"/><circle cx="174.1" cy="290.1" r="2.05" fill="#fdece4"/><circle cx="246.2" cy="290.1" r="1.75" fill="#ffffff"/><circle cx="260.7" cy="290.1" r="1.75" fill="#ffffff"/><circle cx="289.5" cy="290.1" r="2.05" fill="#fdece4"/><circle cx="347.3" cy="290.1" r="2.45" fill="#fdece4"/><circle cx="347.3" cy="297.4" r="1.75" fill="#ffffff"/><circle cx="188.5" cy="304.8" r="2.05" fill="#ffffff"/><circle cx="304.0" cy="304.8" r="1.75" fill="#fdece4"/><circle cx="174.1" cy="312.1" r="3.0" fill="#f2a79a"/><circle cx="203.0" cy="312.1" r="2.05" fill="#ffffff"/><circle cx="217.4" cy="312.1" r="3.0" fill="#f5bfb2"/><circle cx="246.2" cy="312.1" r="2.45" fill="#ffffff"/><circle cx="260.7" cy="312.1" r="0.8" fill="#666"/><circle cx="289.5" cy="312.1" r="2.45" fill="#fdece4"/><circle cx="332.8" cy="312.1" r="2.45" fill="#fdece4"/><circle cx="347.3" cy="312.1" r="2.45" fill="#f9d6c8"/><circle cx="376.1" cy="312.1" r="2.7" fill="#f5bfb2"/><circle cx="405.0" cy="312.1" r="2.05" fill="#ffffff"/><circle cx="419.4" cy="312.1" r="2.7" fill="#f2a79a"/><circle cx="433.8" cy="312.1" r="3.0" fill="#e43425"/><circle cx="462.7" cy="312.1" r="2.45" fill="#fdece4"/><circle cx="174.1" cy="319.4" r="2.45" fill="#ffffff"/><circle cx="217.4" cy="319.4" r="2.45" fill="#ffffff"/><circle cx="419.4" cy="319.4" r="2.05" fill="#ffffff"/><circle cx="462.7" cy="319.4" r="2.45" fill="#ffffff"/><circle cx="203.0" cy="326.8" r="1.75" fill="#ffffff"/><circle cx="217.4" cy="326.8" r="1.75" fill="#ffffff"/><circle cx="231.8" cy="326.8" r="2.45" fill="#f9d6c8"/><circle cx="390.5" cy="326.8" r="1.75" fill="#ffffff"/><circle cx="347.3" cy="334.1" r="2.45" fill="#fdece4"/><circle cx="433.8" cy="334.1" r="2.45" fill="#ffffff"/><circle cx="462.7" cy="334.1" r="1.75" fill="#ffffff"/><circle cx="174.1" cy="341.4" r="2.05" fill="#fdece4"/><circle cx="203.0" cy="341.4" r="1.75" fill="#ffffff"/><circle cx="217.4" cy="341.4" r="2.7" fill="#f2a79a"/><circle cx="231.8" cy="341.4" r="3.0" fill="#ef8f7c"/><circle cx="275.1" cy="341.4" r="2.45" fill="#fdece4"/><circle cx="332.8" cy="341.4" r="2.05" fill="#fdece4"/><circle cx="390.5" cy="341.4" r="3.0" fill="#ee7660"/><circle cx="419.4" cy="341.4" r="1.75" fill="#ffffff"/><circle cx="462.7" cy="341.4" r="3.0" fill="#ee7660"/><circle cx="174.1" cy="348.7" r="2.05" fill="#ffffff"/><circle cx="361.7" cy="348.7" r="2.45" fill="#f9d6c8"/><circle cx="390.5" cy="348.7" r="1.75" fill="#ffffff"/><circle cx="217.4" cy="356.1" r="2.45" fill="#ffffff"/><circle cx="231.8" cy="356.1" r="1.75" fill="#ffffff"/><circle cx="390.5" cy="356.1" r="0.8" fill="#666"/><circle cx="462.7" cy="356.1" r="2.05" fill="#ffffff"/><circle cx="188.5" cy="363.4" r="2.45" fill="#ffffff"/><circle cx="217.4" cy="363.4" r="1.75" fill="#ffffff"/><circle cx="347.3" cy="363.4" r="2.45" fill="#fdece4"/><circle cx="390.5" cy="363.4" r="1.75" fill="#ffffff"/><circle cx="174.1" cy="370.7" r="2.05" fill="#fdece4"/><circle cx="203.0" cy="370.7" r="2.45" fill="#f5bfb2"/><circle cx="217.4" cy="370.7" r="3.0" fill="#ee7660"/><circle cx="231.8" cy="370.7" r="3.0" fill="#ee7660"/><circle cx="260.7" cy="370.7" r="3.0" fill="#ef8f7c"/><circle cx="275.1" cy="370.7" r="2.45" fill="#f9d6c8"/><circle cx="174.1" cy="378.0" r="2.45" fill="#fdece4"/><circle cx="217.4" cy="378.0" r="2.7" fill="#f5bfb2"/><circle cx="246.2" cy="378.0" r="2.45" fill="#ffffff"/><circle cx="260.7" cy="378.0" r="2.45" fill="#fdece4"/><circle cx="304.0" cy="378.0" r="2.45" fill="#fdece4"/><circle cx="318.4" cy="378.0" r="2.45" fill="#fdece4"/><circle cx="347.3" cy="378.0" r="1.75" fill="#ffffff"/><circle cx="376.1" cy="378.0" r="1.75" fill="#ffffff"/><circle cx="390.5" cy="378.0" r="2.7" fill="#f5bfb2"/><circle cx="405.0" cy="378.0" r="1.75" fill="#ffffff"/><circle cx="448.3" cy="378.0" r="2.45" fill="#f5bfb2"/><circle cx="462.7" cy="378.0" r="3.0" fill="#f2a79a"/><circle cx="217.4" cy="385.4" r="2.45" fill="#ffffff"/><circle cx="390.5" cy="385.4" r="2.45" fill="#ffffff"/><circle cx="462.7" cy="385.4" r="2.7" fill="#f9d6c8"/><circle cx="203.0" cy="392.7" r="2.45" fill="#ffffff"/><circle cx="217.4" cy="392.7" r="2.45" fill="#fdece4"/><circle cx="260.7" cy="392.7" r="2.45" fill="#ffffff"/><circle cx="390.5" cy="392.7" r="1.75" fill="#ffffff"/><circle cx="433.8" cy="392.7" r="2.7" fill="#f9d6c8"/><circle cx="188.5" cy="400.0" r="2.05" fill="#ffffff"/><circle cx="217.4" cy="400.0" r="3.0" fill="#f5bfb2"/><circle cx="260.7" cy="400.0" r="2.05" fill="#ffffff"/><circle cx="304.0" cy="400.0" r="2.7" fill="#f9d6c8"/><circle cx="318.4" cy="400.0" r="2.45" fill="#fdece4"/><circle cx="347.3" cy="400.0" r="2.45" fill="#ffffff"/><circle cx="361.7" cy="400.0" r="2.05" fill="#fdece4"/><circle cx="390.5" cy="400.0" r="2.05" fill="#ffffff"/><circle cx="405.0" cy="400.0" r="1.75" fill="#ffffff"/><circle cx="419.4" cy="400.0" r="2.7" fill="#f5bfb2"/><circle cx="448.3" cy="400.0" r="1.75" fill="#ffffff"/><circle cx="203.0" cy="407.3" r="0.8" fill="#666"/><circle cx="217.4" cy="407.3" r="3.0" fill="#f2a79a"/><circle cx="260.7" cy="407.3" r="2.05" fill="#ffffff"/><circle cx="304.0" cy="407.3" r="2.05" fill="#ffffff"/><circle cx="433.8" cy="407.3" r="2.7" fill="#f5bfb2"/><circle cx="462.7" cy="407.3" r="1.75" fill="#ffffff"/><circle cx="217.4" cy="414.6" r="2.05" fill="#fdece4"/><circle cx="260.7" cy="414.6" r="2.05" fill="#fdece4"/><circle cx="304.0" cy="414.6" r="2.7" fill="#f9d6c8"/><circle cx="318.4" cy="414.6" r="2.45" fill="#fdece4"/><circle cx="361.7" cy="414.6" r="2.45" fill="#f9d6c8"/><circle cx="390.5" cy="414.6" r="2.05" fill="#ffffff"/><circle cx="462.7" cy="414.6" r="2.05" fill="#ffffff"/><circle cx="462.7" cy="422.0" r="2.05" fill="#ffffff"/><circle cx="188.5" cy="429.3" r="1.75" fill="#ffffff"/><circle cx="217.4" cy="429.3" r="3.0" fill="#f2a79a"/><circle cx="260.7" cy="429.3" r="2.45" fill="#ffffff"/><circle cx="275.1" cy="429.3" r="1.75" fill="#ffffff"/><circle cx="304.0" cy="429.3" r="1.75" fill="#ffffff"/><circle cx="376.1" cy="429.3" r="1.75" fill="#ffffff"/><circle cx="433.8" cy="429.3" r="2.05" fill="#ffffff"/><circle cx="462.7" cy="429.3" r="1.75" fill="#ffffff"/><circle cx="217.4" cy="436.6" r="2.05" fill="#ffffff"/><circle cx="462.7" cy="444.0" r="2.05" fill="#ffffff"/><circle cx="188.5" cy="451.3" r="2.7" fill="#f9d6c8"/><circle cx="203.0" cy="451.3" r="2.45" fill="#fdece4"/><circle cx="217.4" cy="451.3" r="3.0" fill="#f2a79a"/><circle cx="260.7" cy="451.3" r="3.0" fill="#ef8f7c"/><circle cx="275.1" cy="451.3" r="2.7" fill="#f9d6c8"/><circle cx="304.0" cy="451.3" r="3.0" fill="#f5bfb2"/><circle cx="318.4" cy="451.3" r="2.05" fill="#ffffff"/><circle cx="361.7" cy="451.3" r="2.7" fill="#f9d6c8"/><circle cx="376.1" cy="451.3" r="3.0" fill="#f2a79a"/><circle cx="405.0" cy="451.3" r="1.75" fill="#ffffff"/><circle cx="433.8" cy="451.3" r="3.0" fill="#f9d6c8"/><circle cx="448.3" cy="451.3" r="2.45" fill="#ffffff"/><circle cx="462.7" cy="451.3" r="1.75" fill="#ffffff"/><circle cx="217.4" cy="458.6" r="2.05" fill="#ffffff"/><circle cx="260.7" cy="458.6" r="2.05" fill="#ffffff"/><circle cx="433.8" cy="458.6" r="2.7" fill="#f9d6c8"/><circle cx="462.7" cy="458.6" r="2.05" fill="#ffffff"/><circle cx="217.4" cy="465.9" r="2.05" fill="#ffffff"/><circle cx="304.0" cy="465.9" r="2.05" fill="#ffffff"/><circle cx="419.4" cy="465.9" r="2.05" fill="#ffffff"/><circle cx="188.5" cy="473.2" r="3.0" fill="#f2a79a"/><circle cx="203.0" cy="473.2" r="2.7" fill="#f2a79a"/><circle cx="217.4" cy="473.2" r="3.55" fill="#d91418"/><circle cx="260.7" cy="473.2" r="3.0" fill="#f2a79a"/><circle cx="275.1" cy="473.2" r="3.55" fill="#e9543f"/><circle cx="289.5" cy="473.2" r="3.0" fill="#f9d6c8"/><circle cx="304.0" cy="473.2" r="3.55" fill="#d91418"/><circle cx="318.4" cy="473.2" r="3.0" fill="#ee7660"/><circle cx="376.1" cy="473.2" r="3.0" fill="#ee7660"/><circle cx="390.5" cy="473.2" r="2.7" fill="#f2a79a"/><circle cx="405.0" cy="473.2" r="2.45" fill="#ffffff"/><circle cx="419.4" cy="473.2" r="3.0" fill="#ef8f7c"/><circle cx="433.8" cy="473.2" r="2.45" fill="#f9d6c8"/><circle cx="448.3" cy="473.2" r="2.05" fill="#fdece4"/><circle cx="462.7" cy="473.2" r="2.7" fill="#f5bfb2"/><circle cx="304.0" cy="480.6" r="2.45" fill="#ffffff"/><circle cx="231.8" cy="487.9" r="2.45" fill="#fdece4"/></g>
<defs><linearGradient id="tg" x1="0" y1="0" x2="0" y2="1"><stop offset="0" stop-color="#e4e4ea"/><stop offset="1" stop-color="#c6c6cf"/></linearGradient></defs>
<path d="M485.6,251.5 L490.9,491 L479,491 Z" fill="url(#tg)"/>
<text x="176.10" y="504.40" font-size="5.6" text-anchor="end" transform="rotate(-45 176.10 504.40)" fill="#222">18 - Naive CD8<tspan dy="-1.7" font-size="3.4">+</tspan></text>
<text x="190.53" y="504.40" font-size="5.6" text-anchor="end" transform="rotate(-45 190.53 504.40)" fill="#222">12 - EMRA CD8<tspan dy="-1.7" font-size="3.4">+</tspan><tspan dy="1.7"> CTLA4</tspan><tspan dy="-1.7" font-size="3.4">+</tspan><tspan dy="1.7">2B4</tspan><tspan dy="-1.7" font-size="3.4">+</tspan></text>
<text x="204.96" y="504.40" font-size="5.6" text-anchor="end" transform="rotate(-45 204.96 504.40)" fill="#222">0 - EMRA CD8<tspan dy="-1.7" font-size="3.4">+</tspan><tspan dy="1.7"> PDl</tspan><tspan dy="-1.7" font-size="3.4">+</tspan></text>
<text x="219.39" y="504.40" font-size="5.6" text-anchor="end" transform="rotate(-45 219.39 504.40)" fill="#222">5 - CM CD8<tspan dy="-1.7" font-size="3.4">+</tspan></text>
<text x="233.82" y="504.40" font-size="5.6" text-anchor="end" transform="rotate(-45 233.82 504.40)" fill="#222">14 - MAIT</text>
<text x="248.25" y="504.40" font-size="5.6" text-anchor="end" transform="rotate(-45 248.25 504.40)" fill="#222">15 - Naive CD4<tspan dy="-1.7" font-size="3.4">+</tspan></text>
<text x="262.68" y="504.40" font-size="5.6" text-anchor="end" transform="rotate(-45 262.68 504.40)" fill="#222">1 - CM Th1 CD4<tspan dy="-1.7" font-size="3.4">+</tspan></text>
<text x="277.11" y="504.40" font-size="5.6" text-anchor="end" transform="rotate(-45 277.11 504.40)" fill="#222">19 - EM CD4<tspan dy="-1.7" font-size="3.4">+</tspan><tspan dy="1.7"> PD1</tspan><tspan dy="-1.7" font-size="3.4">+</tspan></text>
<text x="291.54" y="504.40" font-size="5.6" text-anchor="end" transform="rotate(-45 291.54 504.40)" fill="#222">17 - Tregs</text>
<text x="305.97" y="504.40" font-size="5.6" text-anchor="end" transform="rotate(-45 305.97 504.40)" fill="#222">3 - Nk CD56<tspan dy="-1.7" font-size="3.4">br</tspan></text>
<text x="320.40" y="504.40" font-size="5.6" text-anchor="end" transform="rotate(-45 320.40 504.40)" fill="#222">13 - NK CD56<tspan dy="-1.7" font-size="3.4">dim</tspan></text>
<text x="334.83" y="504.40" font-size="5.6" text-anchor="end" transform="rotate(-45 334.83 504.40)" fill="#222">20 - NK CD56<tspan dy="-1.7" font-size="3.4">-</tspan></text>
<text x="349.26" y="504.40" font-size="5.6" text-anchor="end" transform="rotate(-45 349.26 504.40)" fill="#222">25 - Naive B cells</text>
<text x="363.69" y="504.40" font-size="5.6" text-anchor="end" transform="rotate(-45 363.69 504.40)" fill="#222">9 - Transitionnal B cells</text>
<text x="378.12" y="504.40" font-size="5.6" text-anchor="end" transform="rotate(-45 378.12 504.40)" fill="#222">21 - Plasmacytoid DC</text>
<text x="392.55" y="504.40" font-size="5.6" text-anchor="end" transform="rotate(-45 392.55 504.40)" fill="#222">7 - Clas. monocytes CD73<tspan dy="-1.7" font-size="3.4">+</tspan></text>
<text x="406.98" y="504.40" font-size="5.6" text-anchor="end" transform="rotate(-45 406.98 504.40)" fill="#222">6 - Int. monocytes CD11c<tspan dy="-1.7" font-size="3.4">+</tspan></text>
<text x="421.41" y="504.40" font-size="5.6" text-anchor="end" transform="rotate(-45 421.41 504.40)" fill="#222">22 - Int. monocytes</text>
<text x="435.84" y="504.40" font-size="5.6" text-anchor="end" transform="rotate(-45 435.84 504.40)" fill="#222">2 - Clas. monocytes CD127<tspan dy="-1.7" font-size="3.4">+</tspan></text>
<text x="450.27" y="504.40" font-size="5.6" text-anchor="end" transform="rotate(-45 450.27 504.40)" fill="#222">11 - Clas. monocytes CD38<tspan dy="-1.7" font-size="3.4">+</tspan></text>
<text x="464.70" y="504.40" font-size="5.6" text-anchor="end" transform="rotate(-45 464.70 504.40)" fill="#222">4 - Clas. monocytes</text>
<text x="486.00" y="504.40" font-size="5.6" text-anchor="end" transform="rotate(-45 486.00 504.40)" fill="#333">Mean enrichment</text>
<text x="494.00" y="507.40" font-size="5.6" text-anchor="end" transform="rotate(-45 494.00 507.40)" fill="#333">score among all cells</text>
<text x="7.50" y="514.40" font-size="5.7" transform="rotate(0.1 7.50 514.40)" textLength="41.2" lengthAdjust="spacingAndGlyphs" fill="#333">-Log10 <tspan font-style="italic">P</tspan> - value</text>
<defs><linearGradient id="rg"><stop offset="0" stop-color="#fee3d6"/><stop offset=".3" stop-color="#f8a68a"/><stop offset=".55" stop-color="#ee5a44"/><stop offset=".8" stop-color="#d41f22"/><stop offset="1" stop-color="#b00412"/></linearGradient></defs>
<rect x="4.75" y="519" width="48.3" height="10" fill="url(#rg)" stroke="#2a1010" stroke-width="0.9"/>
<path d="M15,519v1.8M29,519v1.8M42.5,519v1.8M15,529v-1.8M29,529v-1.8M42.5,529v-1.8" stroke="#2a1010" stroke-width="0.6"/>
<text x="15.00" y="536.90" font-size="5.3" text-anchor="middle" transform="rotate(0.1 15.00 536.90)" fill="#333">5</text>
<text x="29.00" y="536.90" font-size="5.3" text-anchor="middle" transform="rotate(0.1 29.00 536.90)" fill="#333">10</text>
<text x="42.50" y="536.90" font-size="5.3" text-anchor="middle" transform="rotate(0.1 42.50 536.90)" fill="#333">15</text>
<text x="71.30" y="512.10" font-size="5.6" transform="rotate(0.1 71.30 512.10)" textLength="29.8" lengthAdjust="spacingAndGlyphs" fill="#333">Normalized</text>
<text x="71.30" y="518.70" font-size="5.6" transform="rotate(0.1 71.30 518.70)" textLength="43.8" lengthAdjust="spacingAndGlyphs" fill="#333">enrichment score</text>
<text x="71.50" y="532.20" font-size="5.3" transform="rotate(0.1 71.50 532.20)" textLength="7.3" lengthAdjust="spacingAndGlyphs" fill="#333">1.5</text>
<text x="109.40" y="532.20" font-size="5.3" transform="rotate(0.1 109.40 532.20)" textLength="7.5" lengthAdjust="spacingAndGlyphs" fill="#333">3.0</text>
<path d="M84.4,528.6 L101.5,526.3 M84.4,531.9 L101.5,534.2" stroke="#444" stroke-width="0.4" stroke-dasharray="0.7 0.5"/>
<circle cx="84.4" cy="530.25" r="1.3" fill="#fff" stroke="#111" stroke-width="0.9"/><circle cx="101.5" cy="530.25" r="3.55" fill="#fff" stroke="#111" stroke-width="0.9"/>
<text x="49.80" y="589.80" font-size="6.6" text-anchor="middle" transform="rotate(0.1 49.80 589.80)" textLength="29.6" lengthAdjust="spacingAndGlyphs" fill="#222">Cell cycle</text>
<text x="49.80" y="597.80" font-size="6.6" text-anchor="middle" transform="rotate(0.1 49.80 597.80)" textLength="16.5" lengthAdjust="spacingAndGlyphs" fill="#222">score</text>
<circle cx="51.4" cy="642.9" r="38.05" fill="#fff" stroke="#222" stroke-width="0.9"/>
<path d="M25.11,623.80 A32.5,32.5 0 0 1 75.36,620.94 L69.68,626.15 A24.8,24.8 0 0 0 31.34,628.32 Z" fill="#1c4e8a"/>
<path d="M75.36,620.94 A32.5,32.5 0 0 1 51.40,675.40 L51.40,667.70 A24.8,24.8 0 0 0 69.68,626.15 Z" fill="#f8be15"/>
<path d="M51.40,675.40 A32.5,32.5 0 0 1 25.11,623.80 L31.34,628.32 A24.8,24.8 0 0 0 51.40,667.70 Z" fill="#e4107c"/>
<circle cx="51.4" cy="642.9" r="32.5" fill="none" stroke="#222" stroke-width="0.8"/><circle cx="51.4" cy="642.9" r="24.8" fill="none" stroke="#222" stroke-width="0.8"/>
<path d="M51.4,642.9 L30.53,627.74" stroke="#222" stroke-width="0.75"/>
<path d="M51.4,642.9 L70.42,625.47" stroke="#222" stroke-width="0.75"/>
<path d="M51.4,642.9 L51.40,675.40" stroke="#222" stroke-width="0.75"/>
<path d="M51.4,642.9 L62.52,612.36" stroke="#222" stroke-width="0.75"/>
<path d="M56.70,605.22 A38.05,38.05 0 0 1 75.86,613.75" fill="none" stroke="#111" stroke-width="1.5"/>
<path d="M79.90,616.79 L75.51,615.11 L78.61,612.27 Z" fill="#111"/>
<text x="44.30" y="631.10" font-size="6.3" text-anchor="middle" transform="rotate(0.1 44.30 631.10)" textLength="8.7" lengthAdjust="spacingAndGlyphs" fill="#222">G2</text>
<text x="59.90" y="631.10" font-size="6.3" text-anchor="middle" transform="rotate(0.1 59.90 631.10)" textLength="5.6" lengthAdjust="spacingAndGlyphs" fill="#222">M</text>
<text x="39.10" y="652.20" font-size="6.3" text-anchor="middle" transform="rotate(0.1 39.10 652.20)" textLength="4.2" lengthAdjust="spacingAndGlyphs" fill="#222">S</text>
<text x="63.40" y="652.20" font-size="6.3" text-anchor="middle" transform="rotate(0.1 63.40 652.20)" textLength="8.7" lengthAdjust="spacingAndGlyphs" fill="#222">G1</text>
<text x="86.70" y="611.00" font-size="6.3" text-anchor="middle" transform="rotate(0.1 86.70 611.00)" textLength="9.4" lengthAdjust="spacingAndGlyphs" fill="#222">G0</text>
<text x="100.90" y="653.90" font-size="7.2" text-anchor="middle" transform="rotate(-90 100.90 653.90)" textLength="46" lengthAdjust="spacingAndGlyphs" fill="#333">Percent in phase</text>
<text x="193.00" y="589.20" font-size="6.4" text-anchor="middle" transform="rotate(0.1 193.00 589.20)" textLength="43.6" lengthAdjust="spacingAndGlyphs" fill="#222">In CD4<tspan dy="-1.8" font-size="3.6">+</tspan><tspan dy="1.8"> T cells</tspan></text>
<text x="355.50" y="589.20" font-size="6.4" text-anchor="middle" transform="rotate(0.1 355.50 589.20)" textLength="43.6" lengthAdjust="spacingAndGlyphs" fill="#222">In CD8<tspan dy="-1.8" font-size="3.6">+</tspan><tspan dy="1.8"> T cells</tspan></text>
<path d="M122,591.9 H264.6 M284.5,591.9 H429.2" stroke="#222" stroke-width="0.9"/>
<text x="139.80" y="601.20" font-size="6.3" text-anchor="middle" transform="rotate(0.1 139.80 601.20)" textLength="8.9" lengthAdjust="spacingAndGlyphs" fill="#222">G1</text>
<rect x="122.5" y="603.1" width="34.6" height="4.8" fill="#f9be1b"/>
<text x="139.80" y="617.20" font-size="6.5" text-anchor="middle" transform="rotate(0.1 139.80 617.20)" textLength="29.2" lengthAdjust="spacingAndGlyphs" fill="#222"><tspan font-style="italic">P</tspan> = 0.138</text>
<path d="M132.10000000000002,623.3 V620.8 H147.5 V623.3" fill="none" stroke="#222" stroke-width="0.9"/>
<text x="194.60" y="601.20" font-size="6.3" text-anchor="middle" transform="rotate(0.1 194.60 601.20)" textLength="4.2" lengthAdjust="spacingAndGlyphs" fill="#222">S</text>
<rect x="178" y="603.1" width="33.3" height="4.8" fill="#e5107e"/>
<text x="194.60" y="617.20" font-size="6.5" text-anchor="middle" transform="rotate(0.1 194.60 617.20)" textLength="29.2" lengthAdjust="spacingAndGlyphs" fill="#222"><tspan font-style="italic">P</tspan> = 0.799</text>
<path d="M186.9,623.3 V620.8 H202.29999999999998 V623.3" fill="none" stroke="#222" stroke-width="0.9"/>
<text x="247.60" y="601.20" font-size="6.3" text-anchor="middle" transform="rotate(0.1 247.60 601.20)" textLength="15" lengthAdjust="spacingAndGlyphs" fill="#222">G2M</text>
<rect x="230.7" y="603.1" width="33.9" height="4.8" fill="#1b4f8c"/>
<text x="247.60" y="617.20" font-size="6.5" text-anchor="middle" transform="rotate(0.1 247.60 617.20)" textLength="29.2" lengthAdjust="spacingAndGlyphs" fill="#222"><tspan font-style="italic">P</tspan> = 0.032</text>
<path d="M239.9,623.3 V620.8 H255.29999999999998 V623.3" fill="none" stroke="#222" stroke-width="0.9"/>
<text x="303.60" y="601.20" font-size="6.3" text-anchor="middle" transform="rotate(0.1 303.60 601.20)" textLength="8.9" lengthAdjust="spacingAndGlyphs" fill="#222">G1</text>
<rect x="286.3" y="603.1" width="34.6" height="4.8" fill="#f9be1b"/>
<text x="303.60" y="617.20" font-size="6.5" text-anchor="middle" transform="rotate(0.1 303.60 617.20)" textLength="29.2" lengthAdjust="spacingAndGlyphs" fill="#222"><tspan font-style="italic">P</tspan> = 0.240</text>
<path d="M295.90000000000003,623.3 V620.8 H311.3 V623.3" fill="none" stroke="#222" stroke-width="0.9"/>
<text x="357.40" y="601.20" font-size="6.3" text-anchor="middle" transform="rotate(0.1 357.40 601.20)" textLength="4.2" lengthAdjust="spacingAndGlyphs" fill="#222">S</text>
<rect x="341" y="603.1" width="33.0" height="4.8" fill="#e5107e"/>
<text x="357.40" y="617.20" font-size="6.5" text-anchor="middle" transform="rotate(0.1 357.40 617.20)" textLength="29.2" lengthAdjust="spacingAndGlyphs" fill="#222"><tspan font-style="italic">P</tspan> = 0.473</text>
<path d="M349.7,623.3 V620.8 H365.09999999999997 V623.3" fill="none" stroke="#222" stroke-width="0.9"/>
<text x="411.90" y="601.20" font-size="6.3" text-anchor="middle" transform="rotate(0.1 411.90 601.20)" textLength="15" lengthAdjust="spacingAndGlyphs" fill="#222">G2M</text>
<rect x="394.6" y="603.1" width="34.6" height="4.8" fill="#1b4f8c"/>
<text x="411.90" y="617.20" font-size="6.5" text-anchor="middle" transform="rotate(0.1 411.90 617.20)" textLength="29.2" lengthAdjust="spacingAndGlyphs" fill="#222"><tspan font-style="italic">P</tspan> = 0.984</text>
<path d="M404.2,623.3 V620.8 H419.59999999999997 V623.3" fill="none" stroke="#222" stroke-width="0.9"/>
<path d="M122.5,627.3 V680.2 H157" stroke="#111" stroke-width="1" fill="none"/>
<path d="M119.8,631.5H122.5M119.8,647.3H122.5M119.8,662.5H122.5M119.8,677.7H122.5" stroke="#111" stroke-width="0.9"/>
<text x="117.30" y="633.90" font-size="6.7" text-anchor="end" transform="rotate(0.1 117.30 633.90)" textLength="10.2" lengthAdjust="spacingAndGlyphs" fill="#333">0.5</text>
<text x="117.30" y="649.70" font-size="6.7" text-anchor="end" transform="rotate(0.1 117.30 649.70)" textLength="10.2" lengthAdjust="spacingAndGlyphs" fill="#333">0.4</text>
<text x="117.30" y="664.90" font-size="6.7" text-anchor="end" transform="rotate(0.1 117.30 664.90)" textLength="10.2" lengthAdjust="spacingAndGlyphs" fill="#333">0.3</text>
<text x="117.30" y="680.10" font-size="6.7" text-anchor="end" transform="rotate(0.1 117.30 680.10)" textLength="10.2" lengthAdjust="spacingAndGlyphs" fill="#333">0.2</text>
<rect x="126" y="649.7" width="12.1" height="12.4" fill="#f2931f"/>
<path d="M132.1,629.4V677.7" stroke="#111" stroke-width="0.6"/>
<path d="M126,656.1H138.1" stroke="#2a1a10" stroke-width="1.1"/>
<g fill="#fff" stroke="#222" stroke-width="0.55"><circle cx="132.1" cy="629.4" r="1.3"/><circle cx="132.1" cy="677.7" r="1.3"/><circle cx="132.1" cy="642.4" r="1.3"/><circle cx="132.1" cy="646.2" r="1.3"/><circle cx="132.1" cy="648.8" r="1.3"/><circle cx="132.1" cy="651.0" r="1.3"/><circle cx="132.1" cy="653.1" r="1.3"/><circle cx="132.1" cy="655.7" r="1.3"/><circle cx="132.1" cy="658.3" r="1.3"/><circle cx="132.1" cy="660.9" r="1.3"/><circle cx="132.1" cy="663.5" r="1.3"/><circle cx="132.1" cy="666.6" r="1.3"/></g>
<rect x="142" y="651.8" width="12.0" height="14.8" fill="#9b8dc9"/>
<path d="M148.0,647.1V677.7" stroke="#111" stroke-width="0.6"/>
<path d="M142,663.5H154" stroke="#2a1a10" stroke-width="1.1"/>
<g fill="#fff" stroke="#222" stroke-width="0.55"><circle cx="148.0" cy="647.1" r="1.3"/><circle cx="148.0" cy="677.7" r="1.3"/><circle cx="148.0" cy="649.7" r="1.3"/><circle cx="148.0" cy="651.8" r="1.3"/><circle cx="148.0" cy="654.0" r="1.3"/><circle cx="148.0" cy="656.6" r="1.3"/><circle cx="148.0" cy="659.2" r="1.3"/><circle cx="148.0" cy="663.5" r="1.3"/><circle cx="148.0" cy="666.1" r="1.3"/><circle cx="148.0" cy="668.7" r="1.3"/><circle cx="148.0" cy="671.0" r="1.3"/><circle cx="148.0" cy="673.6" r="1.3"/><circle cx="148.0" cy="675.6" r="1.3"/></g>
<path d="M178.1,627.3 V680.2 H211.3" stroke="#111" stroke-width="1" fill="none"/>
<path d="M175.4,635.5H178.1M175.4,653.2H178.1M175.4,670.7H178.1" stroke="#111" stroke-width="0.9"/>
<text x="172.90" y="637.90" font-size="6.7" text-anchor="end" transform="rotate(0.1 172.90 637.90)" textLength="10.2" lengthAdjust="spacingAndGlyphs" fill="#333">0.5</text>
<text x="172.90" y="655.60" font-size="6.7" text-anchor="end" transform="rotate(0.1 172.90 655.60)" textLength="10.2" lengthAdjust="spacingAndGlyphs" fill="#333">0.4</text>
<text x="172.90" y="673.10" font-size="6.7" text-anchor="end" transform="rotate(0.1 172.90 673.10)" textLength="10.2" lengthAdjust="spacingAndGlyphs" fill="#333">0.3</text>
<rect x="181.5" y="640.3" width="12.0" height="18.2" fill="#f2931f"/>
<path d="M187.5,629.7V670" stroke="#111" stroke-width="0.6"/>
<path d="M181.5,648H193.5" stroke="#2a1a10" stroke-width="1.1"/>
<g fill="#fff" stroke="#222" stroke-width="0.55"><circle cx="187.5" cy="629.7" r="1.3"/><circle cx="187.5" cy="670.0" r="1.3"/><circle cx="187.5" cy="633.5" r="1.3"/><circle cx="187.5" cy="637.0" r="1.3"/><circle cx="187.5" cy="640.5" r="1.3"/><circle cx="187.5" cy="643.5" r="1.3"/><circle cx="187.5" cy="646.0" r="1.3"/><circle cx="187.5" cy="648.5" r="1.3"/><circle cx="187.5" cy="651.0" r="1.3"/><circle cx="187.5" cy="654.0" r="1.3"/><circle cx="187.5" cy="657.0" r="1.3"/><circle cx="187.5" cy="660.5" r="1.3"/><circle cx="187.5" cy="664.0" r="1.3"/></g>
<rect x="196.9" y="641.8" width="12.5" height="15.2" fill="#9b8dc9"/>
<path d="M203.2,635V678" stroke="#111" stroke-width="0.6"/>
<path d="M196.9,646.6H209.4" stroke="#2a1a10" stroke-width="1.1"/>
<g fill="#fff" stroke="#222" stroke-width="0.55"><circle cx="203.2" cy="635.0" r="1.3"/><circle cx="203.2" cy="678.0" r="1.3"/><circle cx="203.2" cy="637.5" r="1.3"/><circle cx="203.2" cy="640.0" r="1.3"/><circle cx="203.2" cy="642.5" r="1.3"/><circle cx="203.2" cy="644.5" r="1.3"/><circle cx="203.2" cy="646.8" r="1.3"/><circle cx="203.2" cy="649.0" r="1.3"/><circle cx="203.2" cy="651.5" r="1.3"/><circle cx="203.2" cy="654.0" r="1.3"/><circle cx="203.2" cy="656.5" r="1.3"/><circle cx="203.2" cy="659.5" r="1.3"/><circle cx="203.2" cy="663.0" r="1.3"/><circle cx="203.2" cy="668.0" r="1.3"/></g>
<path d="M228.65,627.3 V680.2 H264.2" stroke="#111" stroke-width="1" fill="none"/>
<path d="M225.95000000000002,630.7H228.65M225.95000000000002,647.4H228.65M225.95000000000002,663.7H228.65" stroke="#111" stroke-width="0.9"/>
<text x="223.45" y="633.10" font-size="6.7" text-anchor="end" transform="rotate(0.1 223.45 633.10)" textLength="10.2" lengthAdjust="spacingAndGlyphs" fill="#333">0.4</text>
<text x="223.45" y="649.80" font-size="6.7" text-anchor="end" transform="rotate(0.1 223.45 649.80)" textLength="10.2" lengthAdjust="spacingAndGlyphs" fill="#333">0.3</text>
<text x="223.45" y="666.10" font-size="6.7" text-anchor="end" transform="rotate(0.1 223.45 666.10)" textLength="10.2" lengthAdjust="spacingAndGlyphs" fill="#333">0.2</text>
<rect x="233.5" y="656.2" width="11.9" height="7.7" fill="#f2931f"/>
<path d="M239.4,645V677.8" stroke="#111" stroke-width="0.6"/>
<path d="M233.5,660.5H245.4" stroke="#2a1a10" stroke-width="1.1"/>
<g fill="#fff" stroke="#222" stroke-width="0.55"><circle cx="239.4" cy="645.0" r="1.3"/><circle cx="239.4" cy="677.8" r="1.3"/><circle cx="239.4" cy="647.5" r="1.3"/><circle cx="239.4" cy="652.5" r="1.3"/><circle cx="239.4" cy="655.5" r="1.3"/><circle cx="239.4" cy="657.7" r="1.3"/><circle cx="239.4" cy="659.5" r="1.3"/><circle cx="239.4" cy="661.3" r="1.3"/><circle cx="239.4" cy="663.2" r="1.3"/><circle cx="239.4" cy="665.5" r="1.3"/><circle cx="239.4" cy="668.5" r="1.3"/><circle cx="239.4" cy="672.5" r="1.3"/><circle cx="239.4" cy="675.5" r="1.3"/></g>
<rect x="249.4" y="651.2" width="11.9" height="7.0" fill="#9b8dc9"/>
<path d="M255.4,644.7V669" stroke="#111" stroke-width="0.6"/>
<path d="M249.4,655H261.3" stroke="#2a1a10" stroke-width="1.1"/>
<g fill="#fff" stroke="#222" stroke-width="0.55"><circle cx="255.4" cy="644.7" r="1.3"/><circle cx="255.4" cy="669.0" r="1.3"/><circle cx="255.4" cy="629.7" r="1.3"/><circle cx="255.4" cy="631.0" r="1.3"/><circle cx="255.4" cy="636.4" r="1.3"/><circle cx="255.4" cy="648.5" r="1.3"/><circle cx="255.4" cy="651.3" r="1.3"/><circle cx="255.4" cy="653.2" r="1.3"/><circle cx="255.4" cy="655.0" r="1.3"/><circle cx="255.4" cy="656.8" r="1.3"/><circle cx="255.4" cy="658.8" r="1.3"/><circle cx="255.4" cy="661.5" r="1.3"/><circle cx="255.4" cy="664.5" r="1.3"/></g>
<path d="M286.65,627.3 V680.2 H320.9" stroke="#111" stroke-width="1" fill="none"/>
<path d="M283.95,640.3H286.65M283.95,655.1H286.65M283.95,669.7H286.65" stroke="#111" stroke-width="0.9"/>
<text x="281.45" y="642.70" font-size="6.7" text-anchor="end" transform="rotate(0.1 281.45 642.70)" textLength="10.2" lengthAdjust="spacingAndGlyphs" fill="#333">0.4</text>
<text x="281.45" y="657.50" font-size="6.7" text-anchor="end" transform="rotate(0.1 281.45 657.50)" textLength="10.2" lengthAdjust="spacingAndGlyphs" fill="#333">0.3</text>
<text x="281.45" y="672.10" font-size="6.7" text-anchor="end" transform="rotate(0.1 281.45 672.10)" textLength="10.2" lengthAdjust="spacingAndGlyphs" fill="#333">0.2</text>
<rect x="290.1" y="641.2" width="11.9" height="15.4" fill="#f2931f"/>
<path d="M296.1,629.7V677.8" stroke="#111" stroke-width="0.6"/>
<path d="M290.1,644.5H302" stroke="#2a1a10" stroke-width="1.1"/>
<g fill="#fff" stroke="#222" stroke-width="0.55"><circle cx="296.1" cy="629.7" r="1.3"/><circle cx="296.1" cy="677.8" r="1.3"/><circle cx="296.1" cy="632.0" r="1.3"/><circle cx="296.1" cy="634.5" r="1.3"/><circle cx="296.1" cy="638.0" r="1.3"/><circle cx="296.1" cy="641.0" r="1.3"/><circle cx="296.1" cy="643.5" r="1.3"/><circle cx="296.1" cy="645.8" r="1.3"/><circle cx="296.1" cy="648.5" r="1.3"/><circle cx="296.1" cy="653.5" r="1.3"/><circle cx="296.1" cy="656.5" r="1.3"/><circle cx="296.1" cy="660.5" r="1.3"/></g>
<rect x="305.5" y="646.6" width="12.1" height="13.9" fill="#9b8dc9"/>
<path d="M311.6,631.6V675.5" stroke="#111" stroke-width="0.6"/>
<path d="M305.5,651.2H317.6" stroke="#2a1a10" stroke-width="1.1"/>
<g fill="#fff" stroke="#222" stroke-width="0.55"><circle cx="311.6" cy="631.6" r="1.3"/><circle cx="311.6" cy="675.5" r="1.3"/><circle cx="311.6" cy="637.0" r="1.3"/><circle cx="311.6" cy="640.5" r="1.3"/><circle cx="311.6" cy="646.5" r="1.3"/><circle cx="311.6" cy="650.0" r="1.3"/><circle cx="311.6" cy="652.5" r="1.3"/><circle cx="311.6" cy="655.0" r="1.3"/><circle cx="311.6" cy="658.0" r="1.3"/><circle cx="311.6" cy="661.0" r="1.3"/><circle cx="311.6" cy="665.0" r="1.3"/><circle cx="311.6" cy="669.0" r="1.3"/><circle cx="311.6" cy="672.0" r="1.3"/></g>
<path d="M340.7,627.3 V680.2 H374" stroke="#111" stroke-width="1" fill="none"/>
<path d="M338.0,633.9H340.7M338.0,648.3H340.7M338.0,663H340.7M338.0,677.8H340.7" stroke="#111" stroke-width="0.9"/>
<text x="335.50" y="636.30" font-size="6.7" text-anchor="end" transform="rotate(0.1 335.50 636.30)" textLength="10.2" lengthAdjust="spacingAndGlyphs" fill="#333">0.6</text>
<text x="335.50" y="650.70" font-size="6.7" text-anchor="end" transform="rotate(0.1 335.50 650.70)" textLength="10.2" lengthAdjust="spacingAndGlyphs" fill="#333">0.4</text>
<text x="335.50" y="665.40" font-size="6.7" text-anchor="end" transform="rotate(0.1 335.50 665.40)" textLength="10.2" lengthAdjust="spacingAndGlyphs" fill="#333">0.2</text>
<text x="335.50" y="680.20" font-size="6.7" text-anchor="end" transform="rotate(0.1 335.50 680.20)" textLength="10.2" lengthAdjust="spacingAndGlyphs" fill="#333">0.0</text>
<rect x="344.3" y="639.3" width="11.8" height="10.6" fill="#f2931f"/>
<path d="M350.2,633.9V652.8" stroke="#111" stroke-width="0.6"/>
<path d="M344.3,646.6H356.1" stroke="#2a1a10" stroke-width="1.1"/>
<g fill="#fff" stroke="#222" stroke-width="0.55"><circle cx="350.2" cy="633.9" r="1.3"/><circle cx="350.2" cy="652.8" r="1.3"/><circle cx="350.2" cy="636.5" r="1.3"/><circle cx="350.2" cy="639.0" r="1.3"/><circle cx="350.2" cy="641.5" r="1.3"/><circle cx="350.2" cy="643.8" r="1.3"/><circle cx="350.2" cy="645.8" r="1.3"/><circle cx="350.2" cy="647.6" r="1.3"/><circle cx="350.2" cy="649.5" r="1.3"/><circle cx="350.2" cy="651.2" r="1.3"/></g>
<rect x="359.2" y="640.3" width="12.3" height="4.4" fill="#9b8dc9"/>
<path d="M365.4,635.5V647" stroke="#111" stroke-width="0.6"/>
<path d="M359.2,641.8H371.5" stroke="#2a1a10" stroke-width="1.1"/>
<g fill="#fff" stroke="#222" stroke-width="0.55"><circle cx="365.4" cy="635.5" r="1.3"/><circle cx="365.4" cy="647.0" r="1.3"/><circle cx="365.4" cy="629.7" r="1.3"/><circle cx="365.4" cy="637.5" r="1.3"/><circle cx="365.4" cy="639.6" r="1.3"/><circle cx="365.4" cy="641.2" r="1.3"/><circle cx="365.4" cy="642.8" r="1.3"/><circle cx="365.4" cy="644.6" r="1.3"/><circle cx="365.4" cy="649.8" r="1.3"/><circle cx="365.4" cy="651.2" r="1.3"/><circle cx="365.4" cy="677.8" r="1.3"/></g>
<path d="M394.2,627.3 V680.2 H428.8" stroke="#111" stroke-width="1" fill="none"/>
<path d="M391.5,629.7H394.2M391.5,640.3H394.2M391.5,650.8H394.2M391.5,661.4H394.2M391.5,671.6H394.2" stroke="#111" stroke-width="0.9"/>
<text x="389.00" y="632.10" font-size="6.7" text-anchor="end" transform="rotate(0.1 389.00 632.10)" textLength="10.2" lengthAdjust="spacingAndGlyphs" fill="#333">0.6</text>
<text x="389.00" y="642.70" font-size="6.7" text-anchor="end" transform="rotate(0.1 389.00 642.70)" textLength="10.2" lengthAdjust="spacingAndGlyphs" fill="#333">0.5</text>
<text x="389.00" y="653.20" font-size="6.7" text-anchor="end" transform="rotate(0.1 389.00 653.20)" textLength="10.2" lengthAdjust="spacingAndGlyphs" fill="#333">0.4</text>
<text x="389.00" y="663.80" font-size="6.7" text-anchor="end" transform="rotate(0.1 389.00 663.80)" textLength="10.2" lengthAdjust="spacingAndGlyphs" fill="#333">0.3</text>
<text x="389.00" y="674.00" font-size="6.7" text-anchor="end" transform="rotate(0.1 389.00 674.00)" textLength="10.2" lengthAdjust="spacingAndGlyphs" fill="#333">0.2</text>
<rect x="398.1" y="669.1" width="11.9" height="3.9" fill="#f2931f"/>
<path d="M404.1,663.3V677.8" stroke="#111" stroke-width="0.6"/>
<path d="M398.1,671.6H410" stroke="#2a1a10" stroke-width="1.1"/>
<g fill="#fff" stroke="#222" stroke-width="0.55"><circle cx="404.1" cy="663.3" r="1.3"/><circle cx="404.1" cy="677.8" r="1.3"/><circle cx="404.1" cy="664.8" r="1.3"/><circle cx="404.1" cy="667.5" r="1.3"/><circle cx="404.1" cy="669.6" r="1.3"/><circle cx="404.1" cy="671.2" r="1.3"/><circle cx="404.1" cy="672.8" r="1.3"/><circle cx="404.1" cy="674.6" r="1.3"/><circle cx="404.1" cy="676.2" r="1.3"/></g>
<rect x="413.5" y="670" width="12.1" height="4.0" fill="#9b8dc9"/>
<path d="M419.6,669V678.7" stroke="#111" stroke-width="0.6"/>
<path d="M413.5,672H425.6" stroke="#2a1a10" stroke-width="1.1"/>
<g fill="#fff" stroke="#222" stroke-width="0.55"><circle cx="419.6" cy="669.0" r="1.3"/><circle cx="419.6" cy="678.7" r="1.3"/><circle cx="419.6" cy="629.7" r="1.3"/><circle cx="419.6" cy="661.2" r="1.3"/><circle cx="419.6" cy="663.3" r="1.3"/><circle cx="419.6" cy="670.5" r="1.3"/><circle cx="419.6" cy="672.0" r="1.3"/><circle cx="419.6" cy="673.6" r="1.3"/><circle cx="419.6" cy="675.4" r="1.3"/><circle cx="419.6" cy="677.0" r="1.3"/></g>
<rect x="436" y="636.9" width="7.7" height="7.7" fill="#f2931f"/><rect x="436" y="656.1" width="7.7" height="7.5" fill="#9b8dc9"/>
<text x="447.00" y="638.70" font-size="6.5" transform="rotate(0.1 447.00 638.70)" textLength="24.6" lengthAdjust="spacingAndGlyphs" fill="#222">Placebo</text>
<text x="447.00" y="646.80" font-size="6.5" transform="rotate(0.1 447.00 646.80)" textLength="47" lengthAdjust="spacingAndGlyphs" fill="#222">(n=14 patients)</text>
<text x="447.00" y="658.00" font-size="6.5" transform="rotate(0.1 447.00 658.00)" textLength="40.4" lengthAdjust="spacingAndGlyphs" fill="#222">Azithromycin</text>
<text x="447.00" y="665.70" font-size="6.5" transform="rotate(0.1 447.00 665.70)" textLength="47" lengthAdjust="spacingAndGlyphs" fill="#222">(n=17 patients)</text>
</g>
</svg>
</body></html>
